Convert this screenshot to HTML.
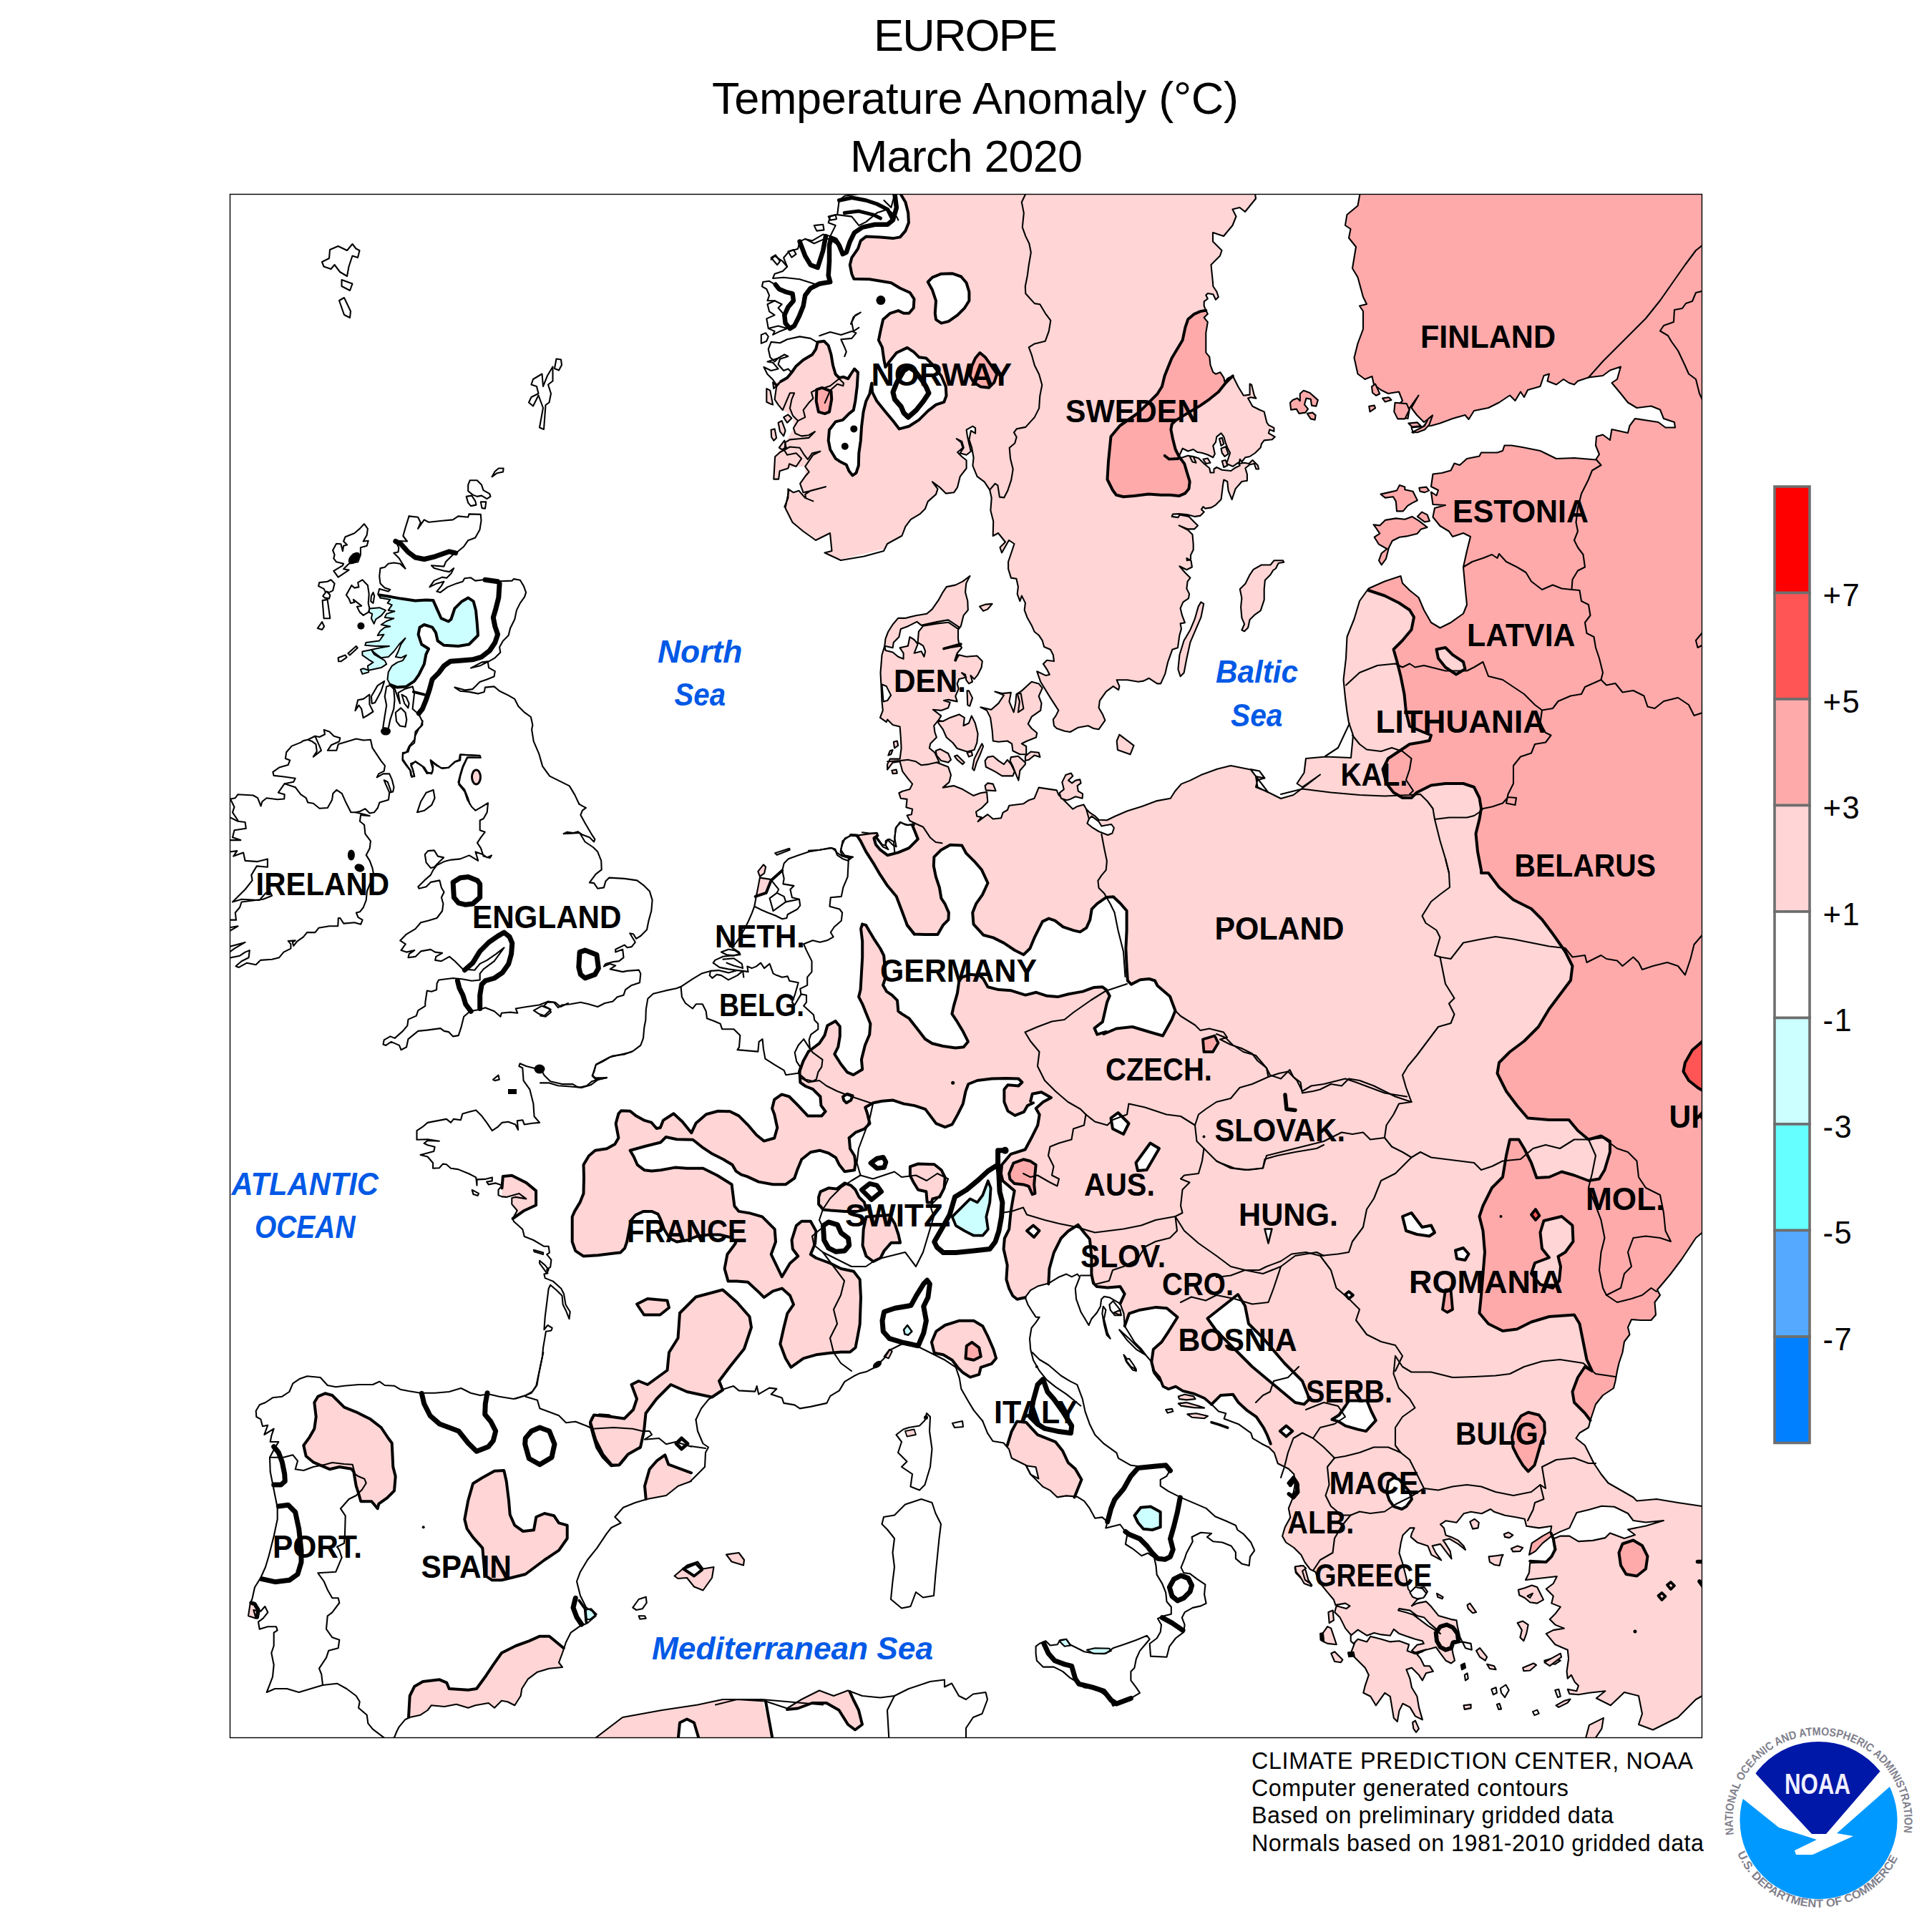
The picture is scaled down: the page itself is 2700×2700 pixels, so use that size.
<!DOCTYPE html>
<html><head><meta charset="utf-8"><title>Europe Temperature Anomaly</title>
<style>
html,body{margin:0;padding:0;background:#fff}
body{width:2700px;height:2700px;position:relative;overflow:hidden;font-family:"Liberation Sans",sans-serif}
svg{position:absolute;left:0;top:0}
text{font-family:"Liberation Sans",sans-serif}
.t{font-size:63px;fill:#000;text-anchor:middle}
.c{font-size:44.5px;font-weight:bold;fill:#000}
.s{font-size:45px;font-weight:bold;font-style:italic;fill:#0059e6}
.k{font-size:43.5px;letter-spacing:1.5px;fill:#000}
.f{font-size:32.3px;fill:#000}
path{stroke-linejoin:round;stroke-linecap:round}
</style></head><body>
<svg width="2700" height="2700" viewBox="0 0 2700 2700">
<defs><clipPath id="fr"><rect x="321" y="271" width="2058" height="2158"/></clipPath>
<clipPath id="lg"><circle cx="2541.5" cy="2544" r="110"/></clipPath></defs>
<text class="t" x="1349.5" y="71" textLength="257" lengthAdjust="spacing">EUROPE</text>
<text class="t" x="1363" y="158.5" textLength="736" lengthAdjust="spacing">Temperature Anomaly (°C)</text>
<text class="t" x="1350.5" y="240" textLength="325" lengthAdjust="spacing">March 2020</text>
<g clip-path="url(#fr)">
<g><path d="M1257.0,260.0 1200.3,270.0 1180.3,273.8 1172.7,280.0 1170.2,300.1 1160.2,302.6 1157.7,311.3 1150.2,313.8 1137.7,315.1 1135.2,336.4 1125.2,333.9 1115.1,347.7 1102.6,351.4 1095.1,360.2 1082.6,357.7 1077.6,362.7 1082.6,382.7 1080.1,389.0 1066.3,394.0 1065.0,400.3 1071.3,404.0 1075.1,412.8 1072.5,425.3 1071.3,445.4 1073.8,459.1 1063.8,467.9 1063.8,479.9 1073.8,487.9 1076.3,499.2 1067.5,513.0 1072.5,523.0 1080.1,530.5 1085.1,540.6 1082.6,558.1 1093.8,573.1 1108.1,581.1 1108.9,598.2 1097.6,618.2 1083.1,638.2 1081.3,669.6 1088.1,669.6 1090.1,658.3 1101.4,654.5 1112.6,652.0 1125.2,652.0 1125.2,665.8 1118.1,675.8 1122.6,688.3 1108.9,688.3 1101.4,683.3 1097.5,710.0 1107.5,730.0 1122.5,742.5 1140.0,755.0 1150.0,750.0 1160.0,745.0 1162.5,770.0 1152.5,772.5 1175.0,782.0 1240.0,766.0 1300.0,750.0 1352.5,800.0 1355.3,805.1 1345.3,812.6 1335.2,817.6 1322.7,820.1 1317.7,827.6 1311.4,838.9 1302.7,851.4 1295.2,857.7 1280.1,860.2 1265.1,863.9 1255.1,863.9 1247.6,872.7 1241.3,882.7 1237.5,892.7 1236.3,902.7 1232.5,915.3 1230.5,940.3 1231.3,955.4 1232.5,980.4 1233.8,992.9 1230.0,1002.9 1238.8,1009.2 1240.1,1005.5 1247.6,1013.0 1257.6,1015.5 1258.8,1030.5 1259.6,1045.5 1257.6,1060.6 1243.8,1060.6 1240.1,1068.1 1240.1,1075.6 1247.6,1065.6 1257.6,1064.3 1261.3,1078.1 1268.9,1088.1 1275.1,1095.6 1271.4,1103.1 1261.3,1105.7 1256.3,1108.2 1258.8,1115.7 1267.6,1116.9 1266.4,1128.2 1275.1,1130.7 1273.9,1138.2 1267.6,1139.5 1271.4,1147.0 1278.9,1150.7 1268.9,1153.2 1258.8,1149.5 1252.6,1155.8 1250.1,1170.8 1252.6,1183.3 1247.6,1180.8 1240.1,1173.3 1237.5,1180.8 1241.3,1187.1 1233.8,1183.3 1225.0,1172.0 1226.3,1164.5 1215.0,1164.5 1214.9,1164.4 1188.9,1167.1 1197.6,1167.6 1202.6,1175.2 1210.2,1190.2 1221.4,1207.7 1230.2,1222.7 1240.2,1237.8 1252.7,1252.8 1260.3,1272.8 1267.8,1292.9 1277.8,1305.4 1235.2,1300.4 1205.2,1291.6 1203.1,1297.9 1205.2,1315.4 1205.2,1338.0 1203.9,1360.5 1202.6,1383.1 1200.1,1393.1 1205.2,1403.1 1210.2,1415.6 1216.4,1430.7 1215.2,1445.7 1208.9,1460.7 1203.9,1480.8 1205.2,1494.5 1192.6,1502.1 1183.9,1498.3 1175.1,1487.0 1166.3,1473.2 1171.3,1463.2 1173.8,1448.2 1173.8,1434.4 1167.6,1426.9 1156.3,1433.2 1152.5,1446.9 1145.0,1458.2 1130.0,1469.5 1129.8,1469.6 1122.6,1482.8 1117.4,1497.3 1186.7,1590.2 1195.5,1582.7 1208.0,1577.7 1215.5,1570.1 1211.8,1555.1 1209.2,1547.6 1220.5,1541.3 1233.0,1538.8 1248.1,1537.6 1263.1,1542.6 1278.1,1545.1 1293.2,1550.1 1300.7,1560.1 1308.2,1570.1 1320.7,1575.2 1330.7,1571.4 1338.3,1557.6 1345.8,1542.6 1349.5,1525.1 1353.3,1515.0 1365.8,1510.0 1385.9,1507.5 1405.9,1507.0 1423.4,1507.5 1428.4,1512.5 1423.4,1517.5 1408.4,1516.3 1403.4,1522.5 1403.4,1540.1 1408.4,1552.6 1418.4,1558.9 1430.9,1553.9 1436.0,1545.1 1444.0,1541.3 1442.7,1528.8 1455.3,1526.3 1469.0,1533.9 1457.8,1540.1 1447.7,1548.9 1452.7,1557.7 1450.2,1572.7 1442.7,1587.7 1432.7,1606.5 1412.7,1612.8 1400.1,1627.8 1398.9,1640.3 1401.4,1650.3 1417.7,1664.1 1415.2,1677.9 1412.7,1692.9 1410.2,1718.0 1403.9,1730.5 1402.6,1745.5 1407.7,1768.1 1406.4,1788.1 1410.2,1800.6 1415.2,1810.7 1421.4,1815.7 1432.7,1813.2 1436.0,1830.0 1436.0,2440.0 2390.0,2440.0 2390.0,260.0 Z" fill="#FFD5D5"/>
<path d="M1117.4,1497.3 1118.4,1512.8 1125.7,1518.0 1136.0,1522.2 1146.4,1532.5 1147.4,1544.9 1153.6,1553.2 1148.4,1559.4 1128.8,1559.4 1115.3,1544.9 1102.9,1532.5 1092.5,1529.4 1082.2,1536.6 1079.1,1549.1 1082.2,1557.3 1086.3,1576.0 1082.2,1590.5 1067.7,1594.6 1057.3,1586.3 1044.9,1571.8 1032.5,1559.4 1020.1,1553.2 1003.5,1552.8 987.0,1557.3 972.5,1569.8 966.3,1583.2 953.8,1567.7 941.4,1556.3 926.9,1565.6 922.8,1576.0 917.6,1577.0 910.4,1568.7 900.0,1565.6 888.2,1558.9 880.6,1552.7 868.1,1552.2 864.4,1556.4 860.6,1570.2 864.4,1590.2 859.3,1599.0 848.1,1605.3 831.8,1607.8 823.0,1615.3 815.5,1627.8 816.0,1645.4 815.5,1667.9 810.5,1680.4 803.0,1692.9 799.7,1700.5 799.7,1735.5 804.2,1748.1 815.5,1755.6 835.6,1754.3 855.6,1751.8 866.9,1750.6 873.1,1744.3 876.1,1735.5 879.4,1718.0 881.9,1705.5 888.2,1698.0 899.4,1692.9 910.7,1692.9 919.5,1696.7 923.2,1704.2 928.2,1718.0 935.8,1730.5 945.8,1735.5 960.8,1733.0 973.3,1728.0 990.9,1725.5 1005.9,1725.5 1020.9,1729.3 1028.4,1735.5 1027.6,1738.0 1016.4,1753.0 1012.6,1773.0 1017.6,1790.6 1030.1,1790.6 1045.2,1791.8 1060.2,1805.6 1067.7,1813.1 1080.2,1804.4 1092.8,1800.6 1104.0,1810.6 1109.0,1823.1 1100.3,1835.7 1095.3,1855.7 1090.3,1878.3 1097.8,1898.3 1105.3,1910.8 1122.8,1898.3 1140.4,1893.3 1160.4,1890.8 1175.4,1889.5 1188.0,1889.5 1195.5,1883.3 1198.0,1870.7 1201.7,1850.7 1203.0,1813.1 1201.7,1788.1 1193.0,1776.8 1175.4,1773.0 1160.4,1765.5 1140.4,1758.0 1132.8,1753.0 1139.1,1738.0 1140.4,1720.4 1132.8,1706.7 1120.3,1706.7 1112.8,1712.9 1106.5,1733.0 1107.8,1745.5 1115.3,1755.5 1104.0,1765.5 1092.8,1784.3 1077.7,1753.0 1084.0,1735.5 1082.7,1717.9 1065.2,1700.4 1047.7,1695.4 1032.6,1692.9 1026.4,1685.4 1022.6,1655.3 1002.6,1642.8 982.5,1632.8 960.0,1632.8 943.3,1631.6 923.2,1635.3 910.7,1636.6 900.7,1635.3 890.7,1627.8 885.7,1616.5 880.6,1607.8 903.2,1601.5 923.2,1596.5 930.7,1589.0 945.8,1592.2 968.3,1592.7 980.8,1602.8 995.9,1612.8 1010.9,1620.3 1023.4,1627.8 1028.4,1636.6 1036.0,1641.6 1044.0,1644.1 1060.2,1651.6 1080.2,1655.3 1097.8,1655.3 1110.3,1646.5 1114.1,1635.3 1120.3,1620.2 1132.8,1610.2 1145.4,1607.7 1157.9,1611.5 1167.9,1617.7 1172.9,1627.8 1180.4,1637.3 1194.2,1635.3 1195.5,1625.3 1194.2,1615.2 1188.0,1605.2 1186.7,1590.2 1193.0,1562.6 1172.9,1500.0 1135.4,1467.4 Z" fill="#FFD5D5"/>
<path d="M1061.9,1226.6 1078.1,1229.1 1070.6,1249.2 1055.6,1252.9 1059.3,1240.4Z" fill="#FFD5D5"/>
<path d="M702.8,1644.1 715.3,1642.8 735.4,1652.9 749.1,1664.1 749.1,1684.2 732.8,1691.7 716.6,1703 722.8,1691.7 715.3,1682.9 716.6,1670.4 707.8,1672.9 701.5,1671.7 701.5,1660.4Z" fill="#FFD5D5"/>
<path d="M439.3,1960 444.3,1951.7 454.3,1947.3 464.3,1950 481,1966.7 497.7,1973.3 517.7,1983.3 532.7,1995 542.7,2010 547.7,2016.7 549.3,2050 552.7,2063.3 551,2083.3 541,2093.3 529.3,2101.7 527.7,2108.3 519.3,2098.3 504.3,2098.3 501,2086.7 497.7,2076.7 494.3,2056.7 491,2052.7 474.3,2050 461,2053.3 449.3,2048.3 437.7,2043.3 427.7,2035 424.3,2020 432.7,2008.3 439.3,1996.7 441.7,1980Z" fill="#FFD5D5" stroke="#000" stroke-width="4"/>
<path d="M661,2073.3 674.3,2065 691,2055.7 704.3,2055 707.7,2070 711,2096.7 712.7,2116.7 719.3,2131.7 731,2140 746,2138.3 749.3,2120 761,2115 774.3,2118.3 781,2128.3 792.7,2131.7 792.7,2150 781,2166.7 761,2180 734.3,2200 714.3,2205 701,2208.3 687.7,2208.3 677.7,2201.7 674.3,2163.3 661,2148.3 652.7,2136.7 649.3,2123.3 654.3,2096.7Z" fill="#FFD5D5" stroke="#000" stroke-width="4"/>
<path d="M571,2400 572.7,2370 579.3,2356.7 591,2350 614.3,2347.3 624.3,2351.7 627.7,2360 654.3,2361.7 666,2360 679.3,2341.7 689.3,2326.7 701,2310 721,2300 739.3,2293.3 754.3,2286.7 767.7,2286.7 787.7,2303.3 786,2310 781,2323.3 786,2330 767.7,2331.7 751,2336.7 737.7,2346.7 729.3,2360 727.7,2370 719.3,2383.3 709.3,2378.3 701,2376.7 691,2386.7 682.7,2380 664.3,2383.3 654.3,2386.7 637.7,2381.7 621,2385 602.7,2383.3 597.7,2390 587.7,2396.7 572.7,2400Z" fill="#FFD5D5"/>
<path d="M827.7,1981.7 837.7,1977.3 851,1978.3 864.3,1985 884.3,1990 894.3,1993.3 897,2006.7 894.3,2023.3 881,2026.7 874.3,2036.7 866,2046.7 854.3,2048.3 842.7,2036.7 834.3,2023.3 829.3,2006.7 825,1990Z" fill="#FFD5D5" stroke="#000" stroke-width="4"/>
<path d="M902.7,2095 901,2076.7 907.7,2053.3 917.7,2041.7 929.3,2033.3 934.3,2046.7 966,2058.3 966,2070 947.7,2076.7 931,2090Z" fill="#FFD5D5"/>
<path d="M349.3,2243.3 354.3,2240 361,2250 358.3,2260.7 347.7,2259.3Z" fill="#FFD5D5"/>
<path d="M1144.1,1672.8 1146.6,1665.3 1157.9,1660.3 1169.2,1661.6 1180.4,1653.3 1189.2,1656.6 1195.5,1662.8 1200.5,1672.8 1208,1680.4 1210.5,1690.4 1198,1692.9 1180.4,1692.9 1160.4,1691.6 1150.4,1690.4 1144.1,1682.9Z" fill="#FFD5D5" stroke="#000" stroke-width="4"/>
<path d="M1271.9,1630.3 1283.1,1626.5 1305.7,1627.3 1315.7,1635.3 1320.7,1645.3 1319.5,1660.3 1313.2,1672.8 1303.2,1675.4 1301.9,1680.4 1295.7,1680.4 1294.4,1665.3 1283.1,1662.8 1276.9,1652.8 1271.9,1642.8Z" fill="#FFD5D5" stroke="#000" stroke-width="4"/>
<path d="M1206.7,1717.9 1210.5,1700.4 1243.1,1697.9 1250.6,1710.4 1255.6,1725.5 1258.1,1736.7 1245.6,1736.7 1235.6,1748 1230.5,1758 1220.5,1763 1210.5,1755.5 1205.5,1740.5Z" fill="#FFD5D5" stroke="#000" stroke-width="4"/>
<path d="M1301.9,1875.8 1308.2,1860.7 1320.7,1852 1340.8,1845.7 1360.8,1845.7 1373.3,1853.2 1380.8,1868.2 1388.4,1885.8 1392.1,1898.3 1385.9,1905.8 1370.8,1910.8 1368.3,1920.8 1355.8,1924.6 1345.8,1918.3 1338.3,1910.8 1330.7,1900.8 1318.2,1893.3 1305.7,1890.8Z" fill="#FFD5D5" stroke="#000" stroke-width="4"/>
<path d="M1235.6,1895.8 1243.1,1885.8 1246.8,1888.3 1241.8,1898.3Z" fill="#FFD5D5" stroke="#000" stroke-width="2"/>
<path d="M1010,1802.5 972.5,1812.5 950,1835 947.5,1870 935,1890 932.5,1915 905,1935 892.5,1930 882.5,1935 890,1955 885,1970 872.5,1982.5 855,1980 830,1977.5 825,1987.5 832.5,2012.5 842.5,2032.5 855,2047.5 865,2047.5 877.5,2032.5 895,2022.5 900,2000 902.5,1975 917.5,1955 937.5,1935 960,1945 995,1952.5 1010,1942.5 1005,1930 1020,1910 1040,1885 1050,1855 1047.5,1840 1030,1820Z" fill="#FFD5D5" stroke="#000" stroke-width="4"/>
<path d="M890,1822.5 905,1815 932.5,1817.5 935,1827.5 922.5,1837.5 900,1837.5Z" fill="#FFD5D5" stroke="#000" stroke-width="4"/></g>
<g><path d="M1257.9,270 1265.4,282.5 1269.2,297.6 1269.9,311.3 1265.4,322.6 1257.9,331.4 1247.9,333.1 1230.4,331.4 1210.3,330.6 1202.8,336.4 1199,347.7 1190.3,360.2 1187.8,370.2 1190.3,382.7 1193.3,389.7 1215.3,390.3 1230.4,392.8 1245.4,395.3 1257.9,402.8 1271.7,409 1277.5,417.8 1276.7,430.3 1270.4,437.8 1262.9,437.8 1255.4,434.1 1244.1,437.8 1234.1,446.6 1230.4,462.9 1227.9,475.4 1232.9,485.4 1235.4,503 1237.4,513 1242.9,505.5 1252.9,493 1267.9,485.9 1276.7,491.7 1284.2,499.2 1294.2,500.5 1303,509.2 1315.5,525.5 1321.8,540.6 1322.5,553.1 1319.3,561.8 1308,565.6 1296.7,574.4 1284.2,586.9 1270.4,595.7 1256.7,599.4 1247.9,588.1 1236.6,574.4 1225.4,560.6 1219.1,548.1 1218.3,535.5 1215.3,550.6 1210.3,560.6 1206.6,575.6 1204.1,595.7 1202.8,615.7 1200.3,633.2 1199.8,650.8 1196.5,660.8 1191.5,664.5 1186.5,658.3 1182.8,649.5 1175.3,645.8 1167.7,640.8 1160.2,628.2 1157.7,615.7 1159,600.7 1167.7,589.4 1177.8,586.9 1186.5,578.1 1192.8,573.1 1195.3,560.6 1197.8,540.6 1199,520.5 1194,515.5 1189,523 1185.3,529.3 1179,526.8 1172.7,528 1167.7,523 1164,510.5 1161.5,495.5 1157.7,482.9 1151.5,476.7 1142.7,477.9 1140.2,487.9 1135.2,495.5 1122.6,503 1112.6,511.7 1106.4,520.5 1100.1,528 1091.3,533 1050,533 1050,270Z" fill="#fff"/>
<path d="M1296.7,394 1303,387.7 1315.5,382.7 1330.6,382.2 1343.1,386.5 1350.6,395.3 1354.4,407.8 1354.4,420.3 1348.1,430.3 1338.1,440.4 1325.6,449.1 1315.5,451.6 1308,446.6 1306.8,437.8 1308,420.3 1303,405.3Z" fill="#fff" stroke="#000" stroke-width="4"/>
<path d="M1267.8,1292.9 1277.8,1305.4 1292.8,1305.9 1310.4,1305.9 1317.9,1292.9 1325.4,1285.4 1325.9,1275.4 1320.4,1262.8 1315.4,1255.3 1312.9,1240.3 1307.9,1225.3 1304.8,1210.2 1305.4,1197.7 1315.4,1187.7 1327.9,1180.7 1344.2,1181.4 1350.4,1192.7 1363.0,1205.2 1371.7,1215.2 1380.5,1234.0 1373.0,1250.3 1364.2,1262.8 1359.2,1275.4 1360.5,1291.6 1374.2,1306.7 1388.0,1310.4 1403.0,1317.9 1418.1,1328.0 1430.6,1334.2 1439.4,1325.5 1445.6,1310.4 1456.9,1287.9 1465.7,1283.6 1474.4,1286.6 1485.7,1295.4 1500.7,1300.4 1509.5,1302.4 1518.3,1296.6 1523.3,1285.4 1525.8,1270.3 1533.3,1262.8 1545.8,1254.1 1555.9,1253.3 1565.9,1262.8 1574.6,1272.8 1574.6,1300.4 1573.4,1325.5 1574.6,1350.5 1575.9,1370.5 1580.9,1375.6 1593.4,1369.3 1606.0,1368.0 1614.0,1370.5 1617.5,1377.5 1635.0,1392.5 1642.5,1412.5 1637.5,1425.0 1625.0,1447.5 1607.5,1442.5 1582.5,1435.0 1560.0,1437.5 1542.5,1445.0 1545.8,1441.9 1533.3,1445.7 1529.5,1436.9 1540.8,1428.2 1547.1,1400.6 1550.8,1391.8 1545.8,1383.1 1540.8,1379.3 1528.3,1380.1 1513.3,1385.6 1493.2,1389.3 1478.2,1393.1 1463.2,1391.8 1448.1,1386.8 1433.1,1390.6 1413.1,1384.3 1395.5,1383.1 1380.5,1379.3 1374.2,1368.0 1369.2,1363.0 1355.5,1361.8 1344.9,1365.5 1340.4,1370.5 1337.9,1388.1 1332.9,1405.6 1330.4,1416.9 1337.9,1428.2 1345.4,1440.7 1352.9,1455.7 1346.7,1463.2 1335.4,1464.5 1317.9,1462.0 1302.8,1458.2 1292.8,1452.0 1280.3,1435.7 1270.3,1423.1 1260.3,1416.9 1255.3,1413.1 1254.0,1398.1 1246.5,1390.6 1239.0,1385.6 1234.0,1376.8 1237.7,1365.5 1236.5,1350.5 1235.2,1335.5 1230.2,1325.5 1222.7,1314.2 1215.2,1301.7 1210.2,1292.9 1205.2,1291.6 1197.6,1282.9 1255.3,1275.4 Z" fill="#fff"/>
<path d="M1275.3,1153.9 1277.8,1160.1 1282.8,1172.6 1270.3,1185.2 1255.3,1191.4 1240.2,1195.2 1230.2,1187.7 1223.9,1180.2 1221.4,1171.4 1226.4,1167.6 1225.2,1160.1 1242.7,1145.1 1260.3,1145.1 1275.3,1150.1Z" fill="#fff"/>
<path d="M1177.9,1532.6 1184.2,1528.8 1191.7,1531.3 1189.2,1537.6 1182.9,1541.3 1179.2,1537.6Z" fill="#fff" stroke="#000" stroke-width="4"/>
<path d="M1465.3,1794.4 1466.5,1773.1 1472.8,1750.5 1482.8,1730.5 1492.8,1720.5 1506.6,1711.7 1515.4,1723 1522.9,1731.8 1525.4,1755.6 1525.4,1780.6 1527.9,1793.1 1532.9,1798.1 1547.9,1799.4 1565.5,1798.1 1571.7,1808.2 1565.5,1821.9 1555.5,1855.8 1505.4,1855.8 1465.3,1805.7Z" fill="#fff"/>
<path d="M1571.7,1853.2 1578,1835.7 1593,1830.7 1615.6,1826.9 1630.6,1828.2 1645.6,1840.7 1633.1,1860.8 1623.1,1875.8 1611.8,1885.8 1609.3,1903.3 1613.1,1918.4 1620.6,1928.4 1605.6,1930.9 1580.5,1880.8Z" fill="#fff"/>
<path d="M1693.1,1962.6 1705.7,1950.1 1723.2,1948.8 1730.7,1960.1 1743.2,1971.4 1755.8,1980.2 1765.8,1995.2 1770.8,2005.2 1775.8,2017.7 1765.8,2025.3 1730.7,2000.2 1700.6,1975.2Z" fill="#fff"/>
<path d="M1687.5,1842.5 1730,1809 1740,1825 1745,1850 1765,1870 1795,1905 1820,1930 1830,1955 1822.5,1962.5 1810,1960 1780,1935 1750,1910 1725,1885 1700,1860Z" fill="#fff" stroke="#000" stroke-width="4"/>
<path d="M1940.3,2070.2 1947.8,2065.2 1955.4,2067.7 1970.4,2085.3 1972.9,2095.3 1965.4,2105.3 1959.1,2109 1947.8,2105.3 1941.6,2096.5 1937.8,2085.3Z" fill="#fff" stroke="#000" stroke-width="4"/>
<path d="M1861.4,1983.8 1871.4,1977.5 1880.2,1965 1885.2,1957.5 1910.3,1957.5 1916.5,1972.5 1922.8,1985.1 1909,2000.1 1897.7,1997.6 1880.2,1992.6 1870.2,1986.3Z" fill="#fff" stroke="#000" stroke-width="4"/>
<path d="M1788.8,2000.1 1797.5,1992.6 1806.3,2000.1 1797.5,2007.6Z" fill="#fff" stroke="#000" stroke-width="4"/>
<path d="M1960,1700 1972.5,1695 1980,1705 1987.5,1715 2000,1712.5 2005,1722.5 1997.5,1727.5 1980,1725 1965,1720Z" fill="#fff" stroke="#000" stroke-width="4"/>
<path d="M2034,1747.5 2045,1744 2052.5,1752.5 2047.5,1761 2036,1759Z" fill="#fff" stroke="#000" stroke-width="4"/>
<path d="M1880,1809 1885,1805 1891,1810 1885,1815Z" fill="#fff" stroke="#000" stroke-width="3.8"/>
<path d="M1767.5,1717.5 1777.5,1717.5 1772.5,1737.5Z" fill="#fff" stroke="#000" stroke-width="2.5"/>
<path d="M1552.5,1562.5 1562.5,1555 1577.5,1570 1570,1585 1555,1577.5Z" fill="#fff" stroke="#000" stroke-width="4"/>
<path d="M1587.5,1625 1607.5,1597.5 1620,1605 1602.5,1635 1590,1636Z" fill="#fff" stroke="#000" stroke-width="4"/>
<path d="M1435,1720 1444,1712.5 1452.5,1720 1445,1729Z" fill="#fff" stroke="#000" stroke-width="4"/></g>
<g><path d="M1890.0,260.0 1870.0,400.0 1880.0,560.0 1850.0,700.0 1880.0,800.0 1912.5,825.0 1935.0,832.5 1955.0,842.5 1970.0,852.5 1976.0,862.5 1972.5,880.0 1960.0,895.0 1947.5,907.5 1952.5,925.0 1957.5,945.0 1962.5,970.0 1965.0,995.0 1970.0,1015.0 1987.5,1022.5 2000.0,1027.5 1997.5,1035.0 1985.0,1037.5 1970.0,1040.0 1955.0,1050.0 1940.0,1060.0 1932.5,1075.0 1937.5,1095.0 1947.5,1107.5 1960.0,1115.0 1972.5,1115.0 1980.0,1107.5 2000.0,1097.5 2020.0,1095.0 2045.0,1095.0 2060.0,1100.0 2067.5,1115.0 2070.0,1130.0 2067.5,1145.0 2062.5,1165.0 2065.0,1190.0 2070.0,1216.0 2070.0,1220.0 2080.0,1220.0 2095.0,1240.0 2115.0,1257.5 2140.0,1270.0 2155.0,1285.0 2170.0,1305.0 2187.5,1330.0 2197.5,1350.0 2195.0,1370.0 2180.0,1390.0 2165.0,1410.0 2150.0,1435.0 2130.0,1455.0 2110.0,1470.0 2095.0,1485.0 2092.5,1500.0 2105.0,1525.0 2120.0,1545.0 2135.0,1562.5 2165.0,1565.0 2192.5,1565.0 2205.0,1580.0 2220.0,1592.5 2237.5,1587.5 2250.0,1595.0 2250.0,1610.0 2242.5,1635.0 2235.0,1647.5 2220.0,1650.0 2200.0,1642.5 2182.5,1637.5 2165.0,1645.0 2147.5,1646.0 2140.0,1625.0 2130.0,1605.0 2122.5,1592.5 2110.0,1592.5 2105.0,1615.0 2100.0,1645.0 2085.0,1660.0 2072.5,1685.0 2067.5,1700.0 2072.5,1720.0 2075.0,1750.0 2072.5,1780.0 2070.0,1810.0 2067.5,1835.0 2080.0,1850.0 2100.0,1860.0 2120.0,1857.5 2140.0,1847.5 2165.0,1840.0 2200.0,1837.5 2207.5,1850.0 2212.5,1875.0 2217.5,1900.0 2225.0,1916.0 2225.0,1916.0 2215.0,1910.0 2205.0,1925.0 2197.5,1945.0 2200.0,1960.0 2215.0,1975.0 2222.5,1985.0 2300.0,2010.0 2390.0,2010.0 2390.0,260.0 Z" fill="#FFAAAA"/>
<path d="M1369.4,493 1376.9,499.2 1385.7,511.7 1393.2,523 1389.4,534.3 1381.9,541.8 1370.6,540.6 1360.6,534.3 1355.6,525.5 1358.1,511.7 1363.1,500.5Z" fill="#FFAAAA" stroke="#000" stroke-width="4"/>
<path d="M1141.4,544.3 1148.9,541.8 1161.5,546.8 1162.2,558.1 1159,575.6 1152.7,578.1 1143.9,575.6 1140.7,560.6Z" fill="#FFAAAA" stroke="#000" stroke-width="4"/>
<path d="M1685.3,433.8 1687.8,438.8 1682.7,443.8 1687.8,450.1 1685.3,465.1 1685.3,492.7 1690.3,498.9 1691.5,510.2 1695.3,520.2 1699.0,522.7 1705.3,520.2 1710.3,527.8 1711.6,534.0 1715.3,529.0 1722.8,525.3 1712.8,535.3 1702.8,547.8 1690.3,557.8 1677.7,566.6 1665.2,574.1 1652.7,581.6 1642.7,587.9 1637.7,592.9 1636.4,600.4 1638.9,612.9 1642.7,628.0 1647.7,638.0 1655.2,648.0 1658.9,660.5 1662.7,673.0 1661.5,683.1 1656.4,689.3 1647.7,693.1 1635.2,691.8 1622.6,691.8 1605.1,690.6 1585.1,693.1 1570.0,694.3 1560.0,691.8 1555.0,685.0 1547.5,670.0 1549.0,645.0 1552.5,610.0 1565.0,595.0 1590.0,577.5 1595.1,572.8 1607.6,560.3 1617.6,550.3 1623.9,540.3 1627.6,525.3 1632.6,512.7 1637.7,500.2 1645.2,487.7 1652.7,475.2 1656.4,457.6 1660.2,446.3 1669.0,438.8 1677.7,435.1 1685.3,433.8 Z" fill="#FFAAAA"/>
<path d="M1350.8,1880.8 1358.3,1875.8 1368.3,1883.3 1370.8,1895.8 1360.8,1900.8 1349.5,1898.3Z" fill="#FFAAAA" stroke="#000" stroke-width="4"/>
<path d="M1410.2,1640.3 1416.4,1625.3 1430.2,1620.3 1440.2,1622.8 1447.7,1627.8 1446.5,1640.3 1445.2,1655.4 1446.5,1667.9 1442.7,1669.1 1437.7,1657.9 1430.2,1655.4 1417.7,1654.1 1411.4,1647.8Z" fill="#FFAAAA" stroke="#000" stroke-width="4"/>
<path d="M2113.2,2007.6 2118.2,1990.1 2125.7,1978.8 2135.7,1973.8 2150.7,1977.5 2158.3,1987.6 2158.8,2002.6 2153.2,2017.6 2148.2,2035.2 2144.5,2047.7 2135.7,2056.4 2128.2,2047.7 2120.7,2035.2 2114.4,2022.6Z" fill="#FFAAAA" stroke="#000" stroke-width="4"/>
<path d="M2140.7,2156.6 2155.8,2146.6 2167,2140.9 2170.8,2150.4 2173.3,2165.4 2168.3,2175.4 2160.8,2182.9 2138.2,2181.7 2137,2172.9Z" fill="#FFAAAA"/>
<path d="M2262.5,2170 2267.5,2157.5 2282.5,2152.5 2295,2160 2302.5,2175 2300,2192.5 2287.5,2202.5 2272.5,2200 2265,2187.5Z" fill="#FFAAAA" stroke="#000" stroke-width="4"/>
<path d="M2016,1830 2020,1802.5 2027.5,1802.5 2030,1830 2022.5,1834Z" fill="#FFAAAA" stroke="#000" stroke-width="3.8"/>
<path d="M1681,1452.5 1697.5,1447.5 1702.5,1457.5 1695,1470 1682.5,1470Z" fill="#FFAAAA" stroke="#000" stroke-width="3.8"/></g>
<g><path d="M2152.5,1722.5 2157.5,1706 2182.5,1700 2197.5,1712.5 2198.5,1735 2187.5,1750 2177.5,1756 2181,1770 2179,1790 2170,1800 2152.5,1795 2140,1780 2145,1765 2165,1757.5 2155,1745Z" fill="#FFD5D5" stroke="#000" stroke-width="4"/>
<path d="M2007.5,907.5 2020,905 2030,915 2045,925 2047.5,935 2035,942.5 2020,932.5 2010,920Z" fill="#FFD5D5" stroke="#000" stroke-width="4"/></g>
<g><path d="M530.2,831.6 546.5,834.1 560.3,836.6 580.3,839.6 595.4,838.4 605.4,839.1 610.4,850.4 616.6,864.2 626.7,868.5 630.4,865.5 635.4,850.4 645.5,840.4 654.2,835.4 661.7,840.4 665,852.9 666.7,870.5 668,888 655.5,900.5 640.4,903 620.4,901.8 611.6,895.5 609.1,884.2 604.1,876.7 592.8,873 586.6,876.7 584.6,886.7 589.1,900.5 599.1,906.8 595.4,914.3 592.8,928.1 585.3,943.1 579.1,951.9 567.8,959.4 555.3,960.6 545.3,956.9 541.5,949.4 542.7,939.3 547.8,930.6 555.3,925.6 562.8,923.1 567.8,915.6 560.3,919.3 552.8,918.1 556.5,910.5 560.3,900.5 566.5,891.8 557.8,900.5 550.3,910.5 542.7,918.1 532.7,919.3 522.7,911.8 518.9,908 530.2,905.5 544,903 525.2,903 510.2,901.8 511.4,898 530.2,895.5 536.5,886.7 527.7,888 531.5,881.7 537.7,876.7 545.3,875.5 532.7,873 540.2,868 550.3,864.2 537.7,862.9 540.2,857.9 551.5,854.2 542.7,852.9 547.8,845.4 541.5,842.9 545.3,837.9 531.5,835.4Z" fill="#CCFFFF" stroke="#000" stroke-width="2"/>
<path d="M516.4,850.4 530.2,849.2 539,852.9 532.7,860.4 525.2,865.5 522.7,871.7 518.9,864.2 520.2,857.9 515.2,855.4Z" fill="#CCFFFF" stroke="#000" stroke-width="2"/>
<path d="M506.4,910.5 518.9,908 522.7,914.3 537.7,923.1 540.2,928.1 532.7,933.1 515.2,936.8 507.7,934.3 503.9,935.6 506.4,941.9 515.2,939.3 513.9,930.6 521.5,925.6 515.2,921.8 506.4,915.6Z" fill="#CCFFFF" stroke="#000" stroke-width="2"/>
<ellipse cx="665.5" cy="1086" rx="6" ry="10" fill="#FFD5D5" stroke="#000" stroke-width="3"/>
<path d="M817.7,2250 826,2248.3 833.7,2256 824.3,2263.3 819.3,2262.7Z" fill="#CCFFFF" stroke="#000" stroke-width="2.1"/>
<path d="M1330.7,1700.4 1343.3,1687.9 1355.8,1675.4 1365.8,1680.4 1373.3,1670.3 1380.8,1650.3 1384.6,1660.3 1383.3,1680.4 1378.3,1700.4 1380.8,1717.9 1373.3,1726.7 1360.8,1726.7 1348.3,1720.4 1335.8,1712.9Z" fill="#CCFFFF" stroke="#000" stroke-width="3.8"/>
<path d="M1263.1,1858.2 1268.1,1852 1274.4,1860.7 1269.4,1865.7 1264.4,1864.5Z" fill="#CCFFFF" stroke="#000" stroke-width="2.5"/>
<path d="M2382.5,1452.5 2365,1467.5 2355,1485 2352.5,1497.5 2360,1510 2372.5,1520 2382.5,1526Z" fill="#FF5555" stroke="#000" stroke-width="4"/>
<path d="M2140,1697.5 2146,1690 2151.5,1699 2146,1705Z" fill="#FF5555" stroke="#000" stroke-width="3.8"/></g>
<g><path d="M1175.0,783.0 1207.5,777.5 1235.0,770.0 1240.0,760.0 1260.0,749.0 1260.4,749.0 1265.4,735.9 1272.9,725.9 1285.5,718.4 1293.0,710.9 1296.7,700.9 1308.0,690.9 1310.5,683.3 1303.0,673.3 1313.0,680.8 1321.8,689.6 1333.1,688.3 1338.1,680.8 1341.8,665.8 1350.6,654.5 1350.6,643.3 1344.3,638.2 1338.1,632.0 1345.6,625.7 1343.1,618.2 1336.8,613.2 1344.3,617.0 1346.8,625.7 1341.8,633.2 1350.6,635.7 1356.9,630.7 1354.4,620.7 1351.9,609.4 1350.6,600.7 1359.4,595.7 1363.1,598.2 1363.1,605.7 1356.9,601.9 1354.4,614.4 1358.1,625.7 1360.6,639.5 1359.4,650.8 1365.6,665.8 1375.7,673.3 1383.2,684.6 1385.7,695.9 1384.4,713.4 1388.2,728.4 1387.7,749.0 1395.0,745.0 1405.0,757.5 1397.5,765.0 1400.0,772.5 1410.0,755.0 1417.5,760.0 1412.5,775.0 1409.1,785.0 1409.1,795.0 1412.9,807.6 1420.4,808.8 1422.9,820.1 1421.7,830.1 1425.4,840.1 1427.9,832.6 1432.9,842.6 1431.7,852.6 1435.4,862.7 1441.7,873.9 1445.5,882.7 1451.7,887.7 1456.7,895.2 1459.2,904.0 1468.0,907.8 1471.8,915.3 1473.0,924.0 1463.0,922.8 1458.0,927.8 1463.0,935.3 1466.8,942.8 1461.7,944.1 1449.2,938.3 1454.2,952.8 1468.0,975.4 1479.3,992.9 1475.5,1000.4 1471.8,1005.5 1473.0,1014.2 1476.8,1018.0 1488.0,1021.7 1495.6,1023.0 1506.8,1016.7 1520.6,1014.2 1528.1,1018.0 1535.6,1019.2 1544.4,1006.7 1540.7,997.9 1535.6,989.2 1536.9,979.1 1545.7,966.6 1555.7,959.1 1563.2,964.1 1564.4,959.1 1560.7,950.3 1575.7,950.3 1590.8,952.8 1598.3,951.6 1605.8,947.8 1617.1,955.4 1622.1,955.4 1628.3,941.6 1632.1,925.3 1638.3,907.8 1645.9,905.3 1648.4,887.7 1650.9,878.9 1649.6,871.4 1655.9,870.2 1652.1,860.2 1649.6,850.1 1653.4,841.4 1660.9,836.4 1662.1,830.1 1658.4,822.6 1659.6,812.6 1663.4,807.6 1655.9,800.0 1648.4,791.3 1658.4,796.3 1665.9,792.5 1664.6,783.8 1658.4,780.0 1658.9,783.3 1664.0,782.0 1664.0,775.8 1667.7,768.2 1667.7,760.7 1666.5,746.9 1660.2,740.7 1647.7,734.4 1660.2,739.4 1669.0,739.4 1674.0,734.4 1667.7,728.2 1661.5,721.9 1648.9,719.4 1646.4,723.1 1637.7,721.9 1638.9,718.6 1647.7,718.1 1660.2,719.4 1670.2,721.9 1677.7,720.6 1682.7,715.6 1679.0,711.9 1681.5,708.1 1684.0,710.6 1692.8,709.4 1699.0,705.6 1706.5,698.1 1707.8,688.1 1709.0,678.1 1710.3,670.5 1715.3,673.0 1716.6,685.6 1721.6,698.1 1726.6,683.1 1735.4,673.0 1742.9,671.8 1742.9,663.0 1740.4,654.3 1746.6,649.2 1752.9,648.0 1755.4,655.5 1759.1,655.5 1757.9,650.5 1750.4,643.0 1745.4,648.0 1739.1,646.7 1731.6,648.0 1732.8,641.7 1735.4,645.5 1740.4,639.2 1746.6,638.0 1754.1,633.0 1761.7,625.5 1762.9,620.4 1766.7,615.4 1777.9,614.2 1781.7,610.4 1772.9,605.4 1774.2,600.4 1780.4,602.9 1780.4,597.9 1772.9,594.1 1770.4,590.4 1766.7,575.4 1760.4,572.8 1750.4,567.8 1744.1,556.6 1747.9,555.3 1755.4,556.6 1752.9,552.8 1749.1,537.8 1746.6,536.5 1746.6,551.6 1737.9,552.8 1730.3,540.3 1722.8,525.3 1715.3,529.0 1711.6,534.0 1710.3,527.8 1705.3,520.2 1699.0,522.7 1695.3,520.2 1691.5,510.2 1690.3,498.9 1685.3,492.7 1685.3,465.1 1687.8,450.1 1682.7,443.8 1687.8,438.8 1685.3,433.8 1682.7,427.6 1682.7,421.3 1687.8,417.5 1685.3,412.5 1687.8,410.0 1695.3,411.3 1699.0,418.8 1702.8,415.0 1700.3,407.5 1695.3,400.0 1695.0,395.0 1692.5,370.0 1705.0,357.5 1707.5,350.0 1695.0,337.5 1695.0,325.0 1710.0,330.0 1722.5,315.0 1727.5,302.5 1722.5,292.5 1732.5,290.0 1740.0,296.0 1755.0,277.5 1752.5,260.0 1902.5,260.0 1897.5,287.5 1882.5,300.0 1880.0,315.0 1887.5,320.0 1885.0,332.5 1895.0,345.0 1890.0,375.0 1897.5,387.5 1905.0,415.0 1910.0,425.0 1900.0,427.5 1905.0,435.0 1905.0,460.0 1897.5,480.0 1892.5,500.0 1897.5,522.5 1907.5,530.0 1917.5,526.0 1920.0,537.5 1930.0,545.0 1940.0,550.0 1955.0,547.5 1960.0,560.0 1950.0,570.0 1955.0,582.5 1967.5,585.0 1970.0,570.0 1982.5,552.5 1972.5,570.0 1980.0,580.0 1990.0,590.0 2000.0,582.5 1990.0,595.0 1975.0,605.0 1972.5,597.5 2000.0,595.0 2012.5,591.5 2030.0,585.0 2047.5,580.0 2052.5,586.0 2060.0,574.0 2080.0,570.0 2095.0,562.5 2110.0,552.5 2117.5,560.0 2125.0,547.5 2130.0,555.0 2135.0,545.0 2152.5,540.0 2157.5,525.0 2165.0,522.5 2162.5,532.5 2175.0,537.5 2185.0,530.0 2192.5,535.0 2200.0,537.5 2205.0,532.5 2220.0,527.5 2240.0,525.0 2250.0,517.5 2265.0,512.5 2260.0,530.0 2252.5,535.0 2265.0,550.0 2275.0,562.5 2287.5,570.0 2307.5,567.5 2320.0,572.5 2325.0,585.0 2340.0,590.0 2341.0,597.5 2327.5,597.5 2317.5,590.0 2285.0,585.0 2277.5,595.0 2275.0,605.0 2252.5,600.0 2250.0,615.0 2240.0,607.5 2231.0,610.0 2230.0,622.5 2235.0,635.0 2230.0,642.5 2200.0,640.0 2175.0,641.0 2152.5,630.0 2127.5,625.0 2112.5,622.5 2102.5,622.5 2100.0,630.0 2092.5,632.5 2070.0,632.5 2067.5,637.5 2050.0,641.0 2040.0,650.0 2032.5,647.5 2027.5,657.5 2015.0,661.0 2002.5,662.5 2000.0,680.0 2010.0,685.0 2007.5,692.5 2000.0,687.5 2002.5,705.0 2020.0,706.0 2005.0,710.0 2002.5,722.5 2012.5,735.0 2025.0,742.5 2030.0,750.0 2045.0,745.0 2055.0,750.0 2050.0,770.0 2045.0,792.5 2047.5,820.0 2050.0,845.0 2045.0,857.5 2027.5,870.0 2012.5,877.5 2000.0,870.0 1990.0,852.5 1982.5,835.0 1970.0,825.0 1960.0,815.0 1957.5,805.0 1935.0,812.5 1912.5,822.5 1900.0,840.0 1892.5,865.0 1882.5,890.0 1881.0,920.0 1877.5,950.0 1880.0,975.0 1882.5,995.0 1885.0,1010.0 1891.0,1027.5 1888.0,1059.0 1852.5,1057.5 1825.0,1060.0 1822.5,1080.0 1812.5,1095.0 1820.0,1100.0 1845.0,1082.5 1827.5,1096.0 1807.5,1111.0 1790.0,1116.0 1770.0,1106.0 1755.0,1100.0 1757.5,1090.0 1767.5,1087.5 1760.0,1077.5 1747.5,1075.0 1772.5,1107.5 1757.5,1100.0 1755.0,1085.0 1767.5,1087.5 1760.0,1077.5 1745.0,1075.0 1720.0,1070.0 1700.0,1075.0 1699.0,1075.6 1678.4,1083.1 1663.4,1090.6 1650.9,1095.6 1642.1,1105.7 1635.8,1115.7 1615.8,1119.4 1595.8,1126.9 1575.7,1133.2 1558.2,1140.7 1546.9,1146.2 1535.6,1145.7 1530.6,1140.7 1523.1,1135.7 1518.1,1130.7 1514.3,1124.4 1505.6,1126.9 1499.3,1130.7 1490.6,1121.9 1479.3,1110.7 1476.8,1104.4 1451.7,1100.6 1445.5,1115.7 1437.9,1118.2 1430.4,1123.2 1410.4,1125.7 1407.9,1132.0 1401.6,1135.7 1399.1,1143.2 1387.8,1144.5 1380.3,1138.2 1366.6,1148.2 1371.6,1142.0 1365.3,1140.7 1364.0,1134.5 1371.6,1129.4 1380.3,1120.7 1379.1,1106.9 1370.3,1108.2 1360.3,1111.9 1345.3,1103.1 1332.7,1098.1 1317.7,1100.6 1326.5,1093.1 1329.0,1083.1 1325.2,1071.8 1308.9,1065.6 1312.7,1065.6 1306.4,1051.8 1298.9,1045.5 1300.2,1039.3 1308.9,1030.5 1306.4,1023.0 1305.2,1014.2 1311.4,1006.7 1315.2,1000.4 1303.9,991.7 1315.2,992.9 1325.2,989.2 1327.7,981.7 1319.0,979.1 1325.2,977.9 1337.7,980.4 1335.2,972.9 1339.7,962.9 1337.7,955.4 1340.3,949.1 1350.3,946.6 1344.0,940.3 1349.0,942.8 1350.3,950.3 1354.0,955.4 1359.0,952.8 1356.5,944.1 1361.5,949.1 1366.6,942.8 1371.6,932.8 1372.8,924.0 1365.3,916.5 1350.3,917.8 1340.3,915.3 1335.2,922.8 1337.7,912.8 1344.0,905.3 1342.8,902.7 1319.0,906.5 1340.3,900.2 1339.0,892.7 1339.0,880.2 1342.8,875.2 1346.5,860.2 1352.8,852.6 1352.3,840.1 1349.0,827.6 1350.3,815.1 1355.3,805.1" fill="#fff" stroke="#000" stroke-width="2.1"/>
<path d="M1340.3,876.4 1325.2,866.4 1310.2,868.9 1287.6,873.9 1281.4,868.9 1268.9,875.2 1258.8,878.9 1256.3,890.2 1248.8,897.7 1247.6,905.3 1236.3,902.7 1237.5,909 1247.6,911.5 1255.1,917.8 1262.6,920.8 1262.6,912.8 1257.6,905.3 1268.9,902.7 1271.4,890.2 1277.6,894 1282.6,900.2 1277.6,912.8 1287.6,910.3 1291.4,917.8 1293.2,910.3 1290.2,902.7 1282.6,897.7 1283.9,882.7 1290.2,874.7 1310.2,871.4 1325.2,869.7 1339,878.9Z" fill="#fff" stroke="#000" stroke-width="2.1"/>
<path d="M1232.5,956.6 1238.8,959.1 1245.1,971.6 1240.1,979.1 1234.5,980.4Z" fill="#fff" stroke="#000" stroke-width="2.1"/>
<path d="M1519.4,1150.7 1525.6,1155.8 1535.6,1162 1548.2,1167 1554.4,1164.5 1556.9,1157 1553.2,1152 1545.7,1153.2 1539.4,1154.5 1535.6,1148.2 1525.6,1140.7 1521.9,1144.5Z" fill="#fff" stroke="#000" stroke-width="2.1"/>
<path d="M1646.4,640.5 1652.7,626.7 1660.2,630.5 1667.7,628 1672.7,631.7 1680.2,633 1687.8,635.5 1695.3,639.2 1697.8,634.2 1695.3,622.9 1699,617.9 1700.3,610.4 1706.5,605.4 1710.3,610.4 1712.8,619.2 1715.3,625.5 1719.1,633 1716.6,640.5 1714.1,648 1722.8,651.8 1730.3,646.7 1732.8,650.5 1725.3,654.3 1720.3,658 1707.8,656.8 1700.3,653 1696.5,655.5 1696.5,660.5 1691.5,660.5 1690.3,654.3 1682.7,648 1675.2,640.5 1667.7,638 1660.2,636.7 1652.7,639.2Z" fill="#fff" stroke="#000" stroke-width="2.1"/>
<path d="M1432.7,1813.2 1440.2,1803.1 1450.2,1797.6 1465.3,1793.6 1480.3,1784.4 1490.3,1780.6 1497.8,1784.4 1505.4,1780.6 1509.1,1784.4 1502.8,1800.6 1504.1,1815.7 1510.4,1833.2 1517.9,1845.7 1521.6,1852.0 1525.4,1843.2 1532.9,1834.5 1537.9,1825.7 1539.2,1815.7 1542.9,1811.9 1550.4,1813.2 1565.5,1821.9 1570.5,1835.7 1571.7,1853.2 1578.0,1863.3 1585.5,1875.8 1595.5,1885.8 1603.0,1895.8 1609.3,1903.3 1611.7,1915.0 1620.5,1925.1 1625.5,1937.6 1633.0,1941.3 1643.0,1937.6 1653.0,1943.8 1668.1,1947.6 1683.1,1953.9 1693.1,1962.6 1703.1,1972.6 1713.2,1975.2 1710.7,1982.7 1730.7,1990.2 1748.2,2002.7 1750.7,2010.2 1763.3,2017.7 1773.3,2022.7 1780.8,2030.3 1785.8,2045.3 1800.8,2052.8 1808.4,2060.3 1809.6,2075.4 1805.9,2095.4 1800.8,2107.9 1803.3,2120.4 1795.8,2134.2 1792.1,2146.7 1797.1,2155.5 1808.4,2163.0 1818.4,2173.0 1823.4,2183.1 1830.9,2193.1 1838.4,2196.8 1843.4,2210.6 1853.4,2223.1 1864.0,2235.7 1866.4,2243.1 1880.2,2240.6 1886.5,2244.3 1881.5,2248.1 1867.7,2244.3 1865.2,2253.1 1872.7,2260.6 1880.2,2275.6 1886.5,2283.1 1895.2,2290.7 1887.7,2310.7 1897.7,2320.7 1907.8,2330.7 1912.8,2340.8 1907.8,2355.8 1905.3,2365.8 1915.3,2370.8 1922.8,2383.3 1935.3,2365.8 1942.8,2370.8 1945.3,2385.9 1947.8,2400.9 1952.8,2405.9 1955.4,2390.9 1960.4,2380.8 1970.4,2385.9 1977.9,2398.4 1987.9,2403.4 1982.9,2385.9 1980.4,2370.8 1972.9,2358.3 1970.4,2345.8 1965.4,2333.2 1972.9,2330.7 1982.9,2340.8 1987.9,2348.3 1992.9,2338.3 2002.9,2335.8 1997.9,2328.2 1990.4,2328.2 1985.4,2318.2 1980.4,2312.0 1987.9,2306.9 2000.4,2303.7 2006.7,2301.9 2013.0,2310.7 2020.5,2320.7 2028.0,2324.5 2033.0,2320.7 2030.5,2310.7 2028.0,2298.2 2043.0,2294.4 2055.6,2296.9 2056.8,2305.7 2048.0,2303.2 2040.5,2288.2 2036.8,2273.1 2035.5,2264.4 2028.0,2263.1 2010.5,2258.1 2000.4,2245.6 1992.9,2238.1 1980.4,2240.6 1972.9,2244.3 1980.4,2235.6 1990.4,2231.8 1994.9,2224.3 1990.4,2218.0 1980.4,2219.3 1971.6,2225.5 1967.9,2220.5 1965.4,2205.5 1960.4,2185.5 1955.4,2170.4 1957.9,2155.4 1960.4,2145.4 1970.4,2135.4 1976.6,2135.4 1972.9,2142.9 1971.6,2147.9 1980.4,2155.4 1995.4,2160.4 2000.4,2172.9 2014.2,2180.4 2006.7,2170.4 2001.7,2160.4 2013.0,2157.9 2020.5,2167.9 2028.5,2178.4 2026.7,2167.9 2020.5,2157.9 2016.7,2152.4 2025.5,2150.4 2038.0,2157.9 2048.0,2165.9 2045.5,2160.4 2038.0,2152.9 2028.0,2147.9 2020.5,2145.4 2018.0,2135.4 2013.0,2130.3 2020.5,2125.3 2035.5,2127.8 2045.5,2115.3 2055.6,2112.8 2070.6,2115.3 2083.1,2109.0 2088.1,2112.8 2103.1,2117.8 2118.2,2120.3 2130.7,2122.8 2133.2,2132.8 2150.7,2135.4 2168.3,2132.8 2167.0,2140.4 2155.8,2146.6 2140.7,2156.6 2137.0,2172.9 2145.7,2167.9 2155.8,2156.6 2168.3,2146.6 2180.8,2140.4 2193.3,2135.4 2203.3,2114.1 2220.9,2109.8 2238.4,2104.8 2256.0,2105.8 2275.0,2115.0 2282.5,2125.0 2300.0,2127.5 2325.0,2125.0 2300.0,2132.5 2275.0,2137.5 2285.0,2145.0 2270.0,2150.0 2250.0,2142.5 2243.4,2149.1 2225.9,2152.9 2205.9,2154.1 2193.3,2146.6 2180.8,2146.6 2170.8,2150.4 2174.5,2165.4 2168.3,2175.4 2160.8,2182.9 2138.2,2184.2 2137.0,2198.0 2132.0,2208.0 2143.2,2206.7 2175.8,2203.0 2170.8,2213.0 2160.8,2220.5 2170.8,2230.5 2168.3,2240.6 2180.8,2245.6 2173.3,2255.6 2165.8,2263.1 2173.3,2270.6 2185.8,2275.6 2170.8,2278.1 2160.8,2283.1 2167.0,2290.7 2173.3,2298.2 2190.8,2305.7 2192.1,2318.2 2189.6,2335.8 2190.8,2345.8 2195.8,2340.8 2200.8,2350.8 2205.9,2355.8 2203.3,2363.3 2190.8,2360.8 2193.3,2367.1 2205.9,2368.3 2220.9,2365.8 2243.4,2363.3 2230.9,2373.3 2240.9,2378.3 2250.9,2383.3 2264.0,2370.8 2270.0,2365.0 2290.0,2370.0 2295.0,2395.0 2290.0,2410.0 2310.0,2417.5 2345.0,2400.0 2370.0,2375.0 2379.0,2370.0 2390.0,2370.0 2395.0,2380.0 2395.0,2445.0 1426.0,2445.0" fill="#fff" stroke="#000" stroke-width="2.1"/>
<path d="M1887.7,2285.7 1897.7,2277.6 1910.3,2285.7 1920.3,2281.9 1930.3,2284.4 1942.8,2285.7 1947.8,2276.9 1955.4,2283.1 1966.6,2286.9 1977.9,2290.7 1987.9,2293.2 1989.9,2296.9 1980.4,2298.7 1972.9,2306.9 1977.9,2309.4 1992.9,2305.2 1987.9,2308.2 1977.9,2311.2 1966.6,2306.9 1969.1,2298.2 1955.4,2293.2 1942.8,2294.4 1930.3,2290.7 1915.3,2286.9 1910.3,2294.4 1897.7,2290.7 1891.5,2296.9 1887.7,2293.2Z" fill="#fff" stroke="#000" stroke-width="2.1"/>
<path d="M1955.4,2248.1 1970.4,2250.6 1980.4,2258.1 1990.4,2260.6 1997.9,2268.6 2006.7,2276.1 2013,2283.1 2005.5,2278.1 1995.4,2271.9 1985.4,2264.4 1975.4,2256.8 1965.4,2253.6 1954.1,2250.6Z" fill="#fff" stroke="#000" stroke-width="2.1"/>
<path d="M1970.4,2225.5 1977.9,2218 1987.9,2220 1993.4,2226.8 1989.2,2233 1980.4,2234.3 1974.1,2231.8Z" fill="#fff" stroke="#000" stroke-width="2.1"/>
<path d="M2395.0,1718.0 2379.0,1722.5 2370.0,1730.0 2360.0,1745.0 2350.0,1760.0 2335.0,1780.0 2322.5,1795.0 2316.0,1802.5 2320.0,1810.0 2312.5,1820.0 2314.0,1837.5 2307.5,1845.0 2292.5,1845.0 2280.0,1844.0 2275.0,1855.0 2277.5,1865.0 2270.0,1875.0 2267.5,1890.0 2262.5,1905.0 2260.0,1916.0 2260.0,1916.0 2257.5,1930.0 2255.0,1940.0 2240.0,1950.0 2230.0,1962.5 2222.5,1985.0 2220.0,1995.0 2207.5,2002.5 2202.5,2010.0 2215.0,2020.0 2222.5,2035.0 2227.5,2045.0 2237.5,2060.0 2247.5,2072.5 2265.0,2082.5 2282.5,2092.5 2287.5,2097.5 2315.0,2095.0 2345.0,2100.0 2379.0,2105.0 2397.5,2106.0" fill="#fff" stroke="#000" stroke-width="2.1"/></g>
<g><path d="M1407.6,2020.2 1413.8,2000.2 1421.3,1986.4 1433.9,1987.7 1450.1,2005.2 1475.2,2015.2 1485.2,2027.8 1492.7,2044 1502.7,2052.8 1511.5,2067.8 1501.5,2092.4 1490.2,2090.4 1477.7,2092.4 1467.7,2082.9 1457.7,2077.9 1452.6,2070.3 1447.6,2050.3 1433.9,2047.8 1423.8,2042.8 1413.8,2037.8 1410.1,2025.3Z" fill="#FFD5D5"/>
<path d="M1433.9,2048.3 1447.6,2050.3 1451.4,2066.6 1440.1,2060.3Z" fill="#fff" stroke="#000" stroke-width="2.1"/>
<path d="M1585.4,2117.9 1594.2,2106.7 1608,2105.4 1621.7,2112.9 1621.7,2134.2 1610.5,2138 1597.9,2136.7 1590.4,2128Z" fill="#CCFFFF" stroke="#000" stroke-width="4"/>
<path d="M1480.2,2293.3 1490.2,2290.8 1496.5,2299.5 1487.7,2300.8Z" fill="#CCFFFF" stroke="#000" stroke-width="2.1"/>
<path d="M1519,2305.8 1530.3,2303.3 1550.3,2303.8 1552.8,2307.1 1542.8,2311.3 1527.8,2310.8Z" fill="#CCFFFF" stroke="#000" stroke-width="2.1"/>
<path d="M1100,2387.5 1120,2375 1145,2362.5 1165,2370 1185,2362.5 1192.5,2375 1200,2390 1205,2410 1195,2417.5 1185,2410 1172.5,2390 1155,2380 1135,2380 1115,2387.5Z" fill="#FFD5D5"/>
<path d="M827.5,2432.5 870,2400 925,2390 975,2382.5 1010,2375 1065,2375 1072.5,2400 1080,2432.5Z" fill="#FFD5D5"/>
<path d="M947.5,2432.5 950,2407.5 960,2402.5 970,2407.5 977.5,2432.5Z" fill="#fff" stroke="#000" stroke-width="4"/></g>
<g><path d="M1059.3,1217.9 1066.9,1208.3 1070.1,1211.6 1068.1,1220.4 1061.9,1224.9Z" fill="#FFD5D5" stroke="#000" stroke-width="2.1"/>
<path d="M1071.3,543.1 1076.3,545.6 1080.1,565.6 1076.3,564.3 1071.3,561.8Z" fill="#FFD5D5" stroke="#000" stroke-width="2.1"/>
<path d="M1087.6,590.7 1092.6,588.1 1097.6,601.9 1095.1,609.4 1090.1,603.2Z" fill="#FFD5D5" stroke="#000" stroke-width="2.1"/>
<path d="M1077.6,600.7 1082.6,599.4 1085.1,611.9 1081.3,615.7 1078.1,610.7Z" fill="#FFD5D5" stroke="#000" stroke-width="2.1"/>
<path d="M1095.1,583.1 1101.4,579.4 1106.4,584.4 1100.1,590.7Z" fill="#FFD5D5" stroke="#000" stroke-width="2.1"/>
<path d="M1088.8,625.7 1096.3,615.7 1098.8,625.7 1092.6,628.2Z" fill="#FFD5D5" stroke="#000" stroke-width="2.1"/>
<path d="M1080.1,534.3 1085.1,539.3 1081.3,543.1Z" fill="#FFD5D5" stroke="#000" stroke-width="2.1"/>
<path d="M1311.4,1006.7 1317.7,1008 1327.7,1002.9 1340.3,998.4 1347.8,1002.9 1346.5,1014.2 1354,1010.5 1357.8,1000.4 1362.8,1010.5 1366.6,1025.5 1365.3,1038 1361.5,1048 1351.5,1050.5 1337.7,1046 1331.5,1038 1322.7,1030.5 1317.7,1019.2 1311.4,1010.5Z" fill="#FFD5D5" stroke="#000" stroke-width="2.1"/>
<path d="M1370.3,988.4 1385.3,991.7 1395.4,982.9 1402.9,971.6 1390.4,966.6 1400.4,969.1 1412.9,967.9 1410.4,980.4 1416.7,995.4 1419.2,982.9 1420.4,970.4 1427.9,965.4 1441.7,952.8 1451.7,955.4 1456.7,961.6 1451.7,972.9 1455.5,982.9 1454.2,992.9 1441.7,1001.7 1436.7,1011.7 1441.7,1018 1449.2,1024.2 1448,1030.5 1435.4,1035.5 1427.9,1039.3 1434.2,1043 1434.2,1054.3 1425.4,1054.3 1415.4,1049.3 1414.1,1039.3 1407.9,1035.5 1395.4,1036.8 1387.8,1035.5 1386.6,1020.5 1384.1,1002.9 1379.1,992.9Z" fill="#FFD5D5" stroke="#000" stroke-width="2.1"/>
<path d="M1421.7,969.1 1426.7,969.1 1430.4,990.4 1422.9,995.4 1424.9,980.4Z" fill="#FFD5D5" stroke="#000" stroke-width="2.1"/>
<path d="M1376.6,1063.1 1380.3,1058.1 1387.8,1056.8 1395.4,1063.1 1402.9,1068.1 1407.9,1061.8 1412.9,1068.1 1417.9,1078.1 1415.4,1084.4 1400.4,1084.4 1390.4,1078.1 1377.8,1071.8Z" fill="#FFD5D5" stroke="#000" stroke-width="2.1"/>
<path d="M1412.9,1058.1 1422.9,1056.8 1432.9,1065.6 1432.9,1068.1 1425.4,1076.8 1423.4,1090.6 1419.2,1080.6 1415.4,1070.6 1411.6,1063.1Z" fill="#FFD5D5" stroke="#000" stroke-width="2.1"/>
<path d="M1432.9,1056.8 1440.5,1050.5 1451.7,1051.8 1453.5,1058.1 1445.5,1055.6 1437.9,1061.8 1432.9,1063.1Z" fill="#FFD5D5" stroke="#000" stroke-width="2.1"/>
<path d="M1372.3,1039.3 1374.1,1043 1370.3,1053 1364.8,1065.6 1361.5,1076.8 1359,1074.3 1361.5,1060.6 1367.8,1048Z" fill="#FFD5D5" stroke="#000" stroke-width="2.1"/>
<path d="M1307.7,1049.3 1313.9,1046.8 1325.2,1053 1329,1061.8 1325.2,1065.6 1315.2,1063.1 1308.9,1055.6Z" fill="#FFD5D5" stroke="#000" stroke-width="2.1"/>
<path d="M1334,1056.8 1337.7,1055.6 1347.8,1065.6 1345.3,1068.1 1337.7,1061.8Z" fill="#FFD5D5" stroke="#000" stroke-width="2.1"/>
<path d="M1351.5,1051.8 1357.8,1050.5 1359,1055.6 1354,1057.6Z" fill="#FFD5D5" stroke="#000" stroke-width="2.1"/>
<path d="M1351.5,965.4 1354,965.4 1359,975.4 1355.3,986.7 1352.3,985.4Z" fill="#FFD5D5" stroke="#000" stroke-width="2.1"/>
<path d="M1369.1,847.6 1377.8,844.6 1386.6,843.9 1380.3,851.4 1374.1,853.9Z" fill="#FFD5D5" stroke="#000" stroke-width="2.1"/>
<path d="M1376.6,1098.1 1380.3,1094.4 1387.8,1095.6 1391.6,1105.2 1377.8,1104.4Z" fill="#FFD5D5" stroke="#000" stroke-width="2.1"/>
<path d="M1248.8,1036.8 1253.8,1035.5 1255.1,1041.8 1250.1,1045.5Z" fill="#FFD5D5" stroke="#000" stroke-width="2.1"/>
<path d="M1243.8,1049.3 1247.6,1048 1245.1,1054.3 1241.3,1055.6Z" fill="#FFD5D5" stroke="#000" stroke-width="2.1"/>
<path d="M1246.3,1076.8 1252.6,1075.6 1253.8,1080.6 1247.6,1081.1Z" fill="#FFD5D5" stroke="#000" stroke-width="2.1"/>
<path d="M1483,1115.7 1480.5,1108.2 1486.8,1103.1 1484.3,1093.1 1489.3,1083.1 1496.8,1080.6 1499.3,1084.4 1493.1,1090.6 1498.1,1094.4 1503.1,1090.6 1509.3,1089.4 1510.6,1094.4 1505.6,1098.1 1506.8,1105.7 1513.1,1109.4 1512.6,1115.7 1503.1,1113.2 1495.6,1116.9 1490.6,1118.2Z" fill="#FFD5D5" stroke="#000" stroke-width="2.1"/>
<path d="M1678.4,841.4 1682.2,843.9 1678.4,862.7 1670.9,880.2 1663.4,897.7 1658.4,920.3 1654.6,940.3 1649.6,945.3 1646.4,935.3 1648.4,915.3 1654.6,895.2 1663.4,880.2 1669.7,865.2 1674.7,847.6Z" fill="#FFD5D5" stroke="#000" stroke-width="2.1"/>
<path d="M1564.4,1026.7 1584.5,1041.8 1579.5,1054.3 1561.9,1048 1560.7,1035.5Z" fill="#FFD5D5" stroke="#000" stroke-width="2.1"/>
<path d="M1704,612.9 1707.8,611.7 1710.3,620.4 1706.5,622.9Z" fill="#FFD5D5" stroke="#000" stroke-width="2.1"/>
<path d="M1706.5,626.7 1712.8,624.2 1716.6,634.2 1711.6,638 1707.8,633Z" fill="#FFD5D5" stroke="#000" stroke-width="2.1"/>
<path d="M1707.8,644.2 1712.8,643 1715.3,650.5 1710.3,653Z" fill="#FFD5D5" stroke="#000" stroke-width="2.1"/>
<path d="M1681.5,641.7 1687.8,640.5 1691.5,646.7 1685.3,648Z" fill="#FFD5D5" stroke="#000" stroke-width="2.1"/>
<path d="M1662.7,638 1667.7,638 1671.5,646.7 1666.5,645.5Z" fill="#FFD5D5" stroke="#000" stroke-width="2.1"/>
<path d="M1803,562.8 1806.7,559.1 1813,556.6 1816.8,560.3 1816.8,550.3 1821.8,545.8 1830.5,549 1841.8,559.1 1839.3,567.8 1833,566.6 1831.8,557.8 1825.5,556.6 1823,565.3 1828,571.6 1824.3,576.6 1815.5,577.9 1811.8,571.6 1804.2,572.8Z" fill="#FFAAAA" stroke="#000" stroke-width="2.1"/>
<path d="M1826.8,577.9 1834.3,576.6 1838.6,580.4 1837.6,586.6 1831.8,585.4Z" fill="#FFAAAA" stroke="#000" stroke-width="2.1"/>
<path d="M1917,540.3 1922,536.5 1928.2,550.3 1923.2,552.8 1918.2,549Z" fill="#FFAAAA" stroke="#000" stroke-width="2.1"/>
<path d="M1932,556.6 1940.8,555.3 1944.5,559.1 1935.8,561.6Z" fill="#FFAAAA" stroke="#000" stroke-width="2.1"/>
<path d="M1913.2,567.8 1920.7,566.6 1922,570.3 1914.5,575.4Z" fill="#FFAAAA" stroke="#000" stroke-width="2.1"/>
<path d="M1949.5,562.8 1965.8,564.1 1969.6,572.8 1963.3,585.4 1953.3,585.4 1948.3,575.4Z" fill="#FFAAAA" stroke="#000" stroke-width="2.1"/>
<path d="M1968.3,591.6 1980.8,590.4 1985.9,595.4 1973.3,596.6Z" fill="#FFAAAA" stroke="#000" stroke-width="2.1"/>
<path d="M1973.3,604.2 1990.9,595.4 1995.9,585.4 2002.1,580.4 1997.1,594.1 1990.9,600.4 1980.8,604.2Z" fill="#FFAAAA" stroke="#000" stroke-width="2.1"/>
<path d="M1929.5,690.6 1940.8,688.1 1952,685.6 1955.8,678.1 1963.3,680.6 1963.3,684.3 1974.6,686.8 1980.8,699.3 1973.3,703.1 1967.1,706.9 1960.8,714.4 1952,714.4 1950.8,700.6 1947,694.3 1935.8,695.6Z" fill="#FFAAAA" stroke="#000" stroke-width="2.1"/>
<path d="M1983.3,681.8 1993.4,680.6 1997.1,685.6 1990.9,688.1 1984.6,686.8Z" fill="#FFAAAA" stroke="#000" stroke-width="2.1"/>
<path d="M1919.5,733.2 1928.2,734.4 1935.8,726.9 1950.8,724.4 1963.3,725.7 1973.3,721.9 1983.3,728.2 1994.6,736.9 1985.9,739.4 1980.8,745.7 1965.8,749.4 1955.8,750.7 1945.8,755.7 1940.8,765.7 1937,780.8 1930.7,789.5 1927,783.3 1930.7,773.2 1938.3,767 1927,760.7 1920.7,750.7 1928.2,745.7 1923.2,738.2Z" fill="#FFAAAA" stroke="#000" stroke-width="2.1"/>
<path d="M1980.8,721.9 1987.1,715.6 1994.6,719.4 1997.9,728.2 1990.9,729.4Z" fill="#FFAAAA" stroke="#000" stroke-width="2.1"/>
<path d="M1732.8,823.3 1740.4,815.8 1746.6,803.3 1751.6,795.8 1762.9,789.5 1775.4,789.5 1780.4,783.3 1793,783.3 1794.2,785.8 1786.7,787 1782.9,794.5 1779.2,797 1775.4,803.3 1767.9,810.8 1766.7,823.3 1766.7,838.4 1761.7,853.4 1752.9,859.7 1746.6,865.9 1744.1,877.2 1739.1,882.2 1735.4,880.5 1739.1,872.2 1735.4,863.4 1734.1,848.4 1735.4,835.9Z" fill="#FFD5D5" stroke="#000" stroke-width="2.1"/>
<path d="M1541.7,1825.7 1545.4,1830.7 1542.9,1843.2 1547.9,1863.3 1551.7,1870.8 1546.7,1865.8 1542.9,1850.7 1540.4,1835.7Z" fill="#fff" stroke="#000" stroke-width="2.1"/>
<path d="M1550.4,1823.2 1555.5,1818.2 1565.5,1830.7 1566.7,1838.2 1558,1838.2 1551.7,1830.7Z" fill="#fff" stroke="#000" stroke-width="2.1"/>
<path d="M1556.7,1834.5 1565.5,1830.7 1566.7,1838.2Z" fill="#FFD5D5" stroke="#000" stroke-width="2.1"/>
<path d="M1564.2,1858.3 1578,1870.8 1590.5,1883.3 1600.5,1893.3 1588,1885.8 1575.5,1873.3Z" fill="#fff" stroke="#000" stroke-width="2.1"/>
<path d="M1570.5,1893.3 1580.5,1905.9 1588,1915.9 1583,1914.6 1574.2,1903.3Z" fill="#fff" stroke="#000" stroke-width="2.1"/>
<path d="M1646.8,1951.4 1655.6,1948.8 1668.1,1951.4 1670.6,1955.1 1658.1,1956.4 1648,1955.1Z" fill="#FFD5D5" stroke="#000" stroke-width="2.1"/>
<path d="M1646.8,1961.4 1658.1,1960.1 1675.6,1965.1 1683.1,1967.6 1668.1,1967.1 1650.5,1964.6Z" fill="#FFD5D5" stroke="#000" stroke-width="2.1"/>
<path d="M1659.3,1976.4 1671.8,1975.2 1688.1,1978.9 1683.1,1982.2 1665.6,1980.7Z" fill="#FFD5D5" stroke="#000" stroke-width="2.1"/>
<path d="M1629.2,1970.1 1638,1968.9 1639.3,1972.6 1631.8,1974.6Z" fill="#fff" stroke="#000" stroke-width="2.1"/>
<path d="M1572.9,1900 1580.4,1910 1587.9,1913.8 1584.2,1907.5 1577.9,1898.7Z" fill="#fff" stroke="#000" stroke-width="2.1"/>
<path d="M1809.6,2190.6 1818.4,2188.1 1824.6,2194.3 1828.4,2208.1 1833.4,2215.6 1825.9,2213.1 1817.1,2204.4 1810.9,2198.1Z" fill="#FFD5D5" stroke="#000" stroke-width="2.1"/>
<path d="M2054.3,2126.6 2060.6,2122.8 2066.8,2127.8 2065.6,2135.4 2058.1,2136.6Z" fill="#FFD5D5" stroke="#000" stroke-width="2.1"/>
<path d="M2101.9,2144.1 2108.2,2141.6 2114.4,2145.4 2109.4,2149.1 2103.1,2147.9Z" fill="#FFD5D5" stroke="#000" stroke-width="2.1"/>
<path d="M2080.6,2175.4 2090.6,2174.2 2100.6,2172.9 2098.1,2177.9 2095.6,2188 2088.1,2186.7 2081.9,2182.9Z" fill="#FFD5D5" stroke="#000" stroke-width="2.1"/>
<path d="M2111.9,2164.2 2120.7,2160.4 2128.2,2162.9 2124.4,2167.9 2114.4,2168.4Z" fill="#FFD5D5" stroke="#000" stroke-width="2.1"/>
<path d="M2121.9,2221.8 2130.7,2219.3 2140.7,2215.5 2148.2,2218 2153.2,2228 2157,2235.6 2148.2,2240.6 2138.2,2239.3 2130.7,2233 2123.2,2229.3Z" fill="#FFD5D5" stroke="#000" stroke-width="2.1"/>
<path d="M2120.7,2268.1 2128.2,2265.6 2135.7,2270.6 2133.2,2283.1 2129.4,2293.2 2124.4,2288.2 2126.9,2278.1Z" fill="#FFD5D5" stroke="#000" stroke-width="2.1"/>
<path d="M2158.3,2320.7 2170.8,2317 2180.8,2320.7 2173.3,2325.7 2160.8,2324.5Z" fill="#FFD5D5" stroke="#000" stroke-width="2.1"/>
<path d="M2128.2,2330.7 2143.2,2324.5 2147,2327 2138.2,2334.5 2129.4,2335.3Z" fill="#FFD5D5" stroke="#000" stroke-width="2.1"/>
<path d="M2050.5,2243.1 2054.3,2240.6 2063.1,2253.1 2058.1,2254.3 2051.8,2248.1Z" fill="#FFD5D5" stroke="#000" stroke-width="2.1"/>
<path d="M2008,2226.8 2016.7,2231.8 2015.5,2234.3 2009.2,2231.8Z" fill="#FFD5D5" stroke="#000" stroke-width="2.1"/>
<path d="M2063.1,2306.9 2068.1,2303.2 2078.1,2315.7 2075.6,2320.7 2068.1,2315.7Z" fill="#FFD5D5" stroke="#000" stroke-width="2.1"/>
<path d="M2078.1,2325.7 2088.1,2328.2 2090.6,2333.2 2081.9,2332Z" fill="#FFD5D5" stroke="#000" stroke-width="2.1"/>
<path d="M2045.5,2383.3 2055.6,2382.1 2055.6,2387.1 2046.8,2388.9Z" fill="#FFD5D5" stroke="#000" stroke-width="2.1"/>
<path d="M2174.5,2383.3 2185.8,2377.1 2194.6,2374.6 2190.8,2379.6 2178.3,2385.9Z" fill="#FFD5D5" stroke="#000" stroke-width="2.1"/>
<path d="M2215.9,2429.7 2220.9,2410.9 2240.9,2400.9 2238.4,2415.9 2228.4,2430.9Z" fill="#FFD5D5" stroke="#000" stroke-width="2.1"/>
<path d="M1974.1,2407.1 1977.9,2404.6 1982.9,2415.9 1979.1,2420.9 1975.4,2415.9Z" fill="#FFD5D5" stroke="#000" stroke-width="2.1"/>
<path d="M1860.2,2310.7 1865.2,2308.2 1876.4,2319.5 1873.9,2323.2 1865.2,2322Z" fill="#FFD5D5" stroke="#000" stroke-width="2.1"/>
<path d="M1846.4,2285.7 1855.2,2273.1 1860.2,2275.6 1865.2,2290.7 1867.7,2298.2 1855.2,2296.9 1847.6,2293.2Z" fill="#FFD5D5" stroke="#000" stroke-width="2.1"/>
<path d="M1856.4,2253.1 1862.7,2250.6 1863.9,2264.4 1857.7,2268.1Z" fill="#FFD5D5" stroke="#000" stroke-width="2.1"/>
<path d="M1810.1,2189.2 1821.3,2188 1825.1,2191.7 1820.1,2195.5 1823.8,2208 1831.4,2213 1832.6,2216.8 1822.6,2213 1817.6,2204.2 1811.3,2196.7Z" fill="#FFD5D5" stroke="#000" stroke-width="2.1"/>
<path d="M2158.3,2323.2 2180.8,2310.7 2182.1,2315.7 2165.8,2328.2Z" fill="#FFD5D5" stroke="#000" stroke-width="2.1"/>
<path d="M2096.9,2359.5 2104.4,2354.5 2108.7,2362.1 2103.1,2372.1 2098.1,2365.8Z" fill="#fff" stroke="#000" stroke-width="2.1"/>
<path d="M2084.4,2360.8 2090.6,2358.3 2091.9,2365.8 2086.9,2368.3Z" fill="#fff" stroke="#000" stroke-width="2.1"/>
<path d="M2091.9,2382.1 2095.6,2380.8 2098.1,2388.4 2094.4,2388.9Z" fill="#fff" stroke="#000" stroke-width="2.1"/>
<path d="M2142,2392.1 2148.2,2389.6 2150.7,2394.6 2144.5,2397.1Z" fill="#fff" stroke="#000" stroke-width="2.1"/>
<path d="M2173.3,2362.1 2178.3,2360.8 2180.8,2370.8 2177,2372.1Z" fill="#fff" stroke="#000" stroke-width="2.1"/>
<path d="M2046.8,2340.8 2050.5,2338.3 2051.8,2345.8 2048,2348.3Z" fill="#fff" stroke="#000" stroke-width="2.1"/>
<path d="M2041.8,2327 2046.8,2324.5 2048,2330.7 2043,2333.2Z" fill="#000" stroke="#000" stroke-width="2.1"/>
<path d="M1845.1,2283.1 1848.9,2281.9 1850.1,2293.2 1845.6,2291.9Z" fill="#000" stroke="#000" stroke-width="2.1"/>
<path d="M1884,2309.4 1891.5,2308.7 1892.7,2314.5 1885.2,2315.2Z" fill="#000" stroke="#000" stroke-width="2.1"/>
<path d="M2134.5,2230.5 2142,2226.8 2138.2,2233Z" fill="#fff" stroke="#000" stroke-width="2.1"/>
<path d="M1265,2000 1277.5,1997.5 1280,2005 1267.5,2007.5Z" fill="#FFD5D5" stroke="#000" stroke-width="1.8"/>
<path d="M942.5,2202.5 960,2187.5 975,2182.5 982.5,2192.5 997.5,2190 995,2205 982.5,2222.5 970,2217.5 960,2205 947.5,2206Z" fill="#FFD5D5" stroke="#000" stroke-width="2.1"/>
<path d="M955,2192.5 972.5,2185 981,2194 970,2202.5Z" fill="#fff" stroke="#000" stroke-width="4"/>
<path d="M1015,2172.5 1032.5,2170 1040,2180 1039,2187.5 1022.5,2182.5Z" fill="#FFD5D5" stroke="#000" stroke-width="2.1"/></g>
<g><path d="M1188.9,1167.1 1197.6,1167.6 1202.6,1175.2 1210.2,1190.2 1221.4,1207.7 1230.2,1222.7 1240.2,1237.8 1252.7,1252.8 1260.3,1272.8 1267.8,1292.9 1277.8,1305.4" fill="none" stroke="#000" stroke-width="4"/>
<path d="M1205.2,1291.6 1203.1,1297.9 1205.2,1315.4 1205.2,1338 1203.9,1360.5 1202.6,1383.1 1200.1,1393.1 1205.2,1403.1 1210.2,1415.6 1216.4,1430.7 1215.2,1445.7 1208.9,1460.7 1203.9,1480.8 1205.2,1494.5 1192.6,1502.1 1183.9,1498.3 1175.1,1487 1166.3,1473.2 1171.3,1463.2 1173.8,1448.2 1173.8,1434.4 1167.6,1426.9 1156.3,1433.2 1152.5,1446.9 1145,1458.2 1130,1469.5" fill="none" stroke="#000" stroke-width="4"/>
<path d="M1129.8,1469.6 1122.6,1482.8 1117.4,1497.3" fill="none" stroke="#000" stroke-width="4"/>
<path d="M1186.7,1590.2 1195.5,1582.7 1208,1577.7 1215.5,1570.1 1211.8,1555.1 1209.2,1547.6 1220.5,1541.3 1233,1538.8 1248.1,1537.6 1263.1,1542.6 1278.1,1545.1 1293.2,1550.1 1300.7,1560.1 1308.2,1570.1 1320.7,1575.2 1330.7,1571.4 1338.3,1557.6 1345.8,1542.6 1349.5,1525.1 1353.3,1515 1365.8,1510 1385.9,1507.5 1405.9,1507 1423.4,1507.5 1428.4,1512.5 1423.4,1517.5 1408.4,1516.3 1403.4,1522.5 1403.4,1540.1 1408.4,1552.6 1418.4,1558.9 1430.9,1553.9 1436,1545.1 1444,1541.3" fill="none" stroke="#000" stroke-width="4"/>
<path d="M1440.2,1538.9 1442.7,1528.8 1455.3,1526.3 1469,1533.9 1457.8,1540.1 1447.7,1548.9 1452.7,1557.7 1450.2,1572.7 1442.7,1587.7 1432.7,1606.5 1412.7,1612.8 1400.1,1627.8 1398.9,1640.3 1401.4,1650.3 1417.7,1664.1 1415.2,1677.9 1412.7,1692.9 1410.2,1718 1403.9,1730.5 1402.6,1745.5 1407.7,1768.1 1406.4,1788.1 1410.2,1800.6 1415.2,1810.7 1421.4,1815.7 1432.7,1813.2" fill="none" stroke="#000" stroke-width="4"/>
<path d="M1117.4,1497.3 1118.4,1512.8 1125.7,1518.0 1136.0,1522.2 1146.4,1532.5 1147.4,1544.9 1153.6,1553.2 1148.4,1559.4 1128.8,1559.4 1115.3,1544.9 1102.9,1532.5 1092.5,1529.4 1082.2,1536.6 1079.1,1549.1 1082.2,1557.3 1086.3,1576.0 1082.2,1590.5 1067.7,1594.6 1057.3,1586.3 1044.9,1571.8 1032.5,1559.4 1020.1,1553.2 1003.5,1552.8 987.0,1557.3 972.5,1569.8 966.3,1583.2 953.8,1567.7 941.4,1556.3 926.9,1565.6 922.8,1576.0 917.6,1577.0 910.4,1568.7 900.0,1565.6 888.2,1558.9 880.6,1552.7 868.1,1552.2 864.4,1556.4 860.6,1570.2 864.4,1590.2 859.3,1599.0 848.1,1605.3 831.8,1607.8 823.0,1615.3 815.5,1627.8 816.0,1645.4 815.5,1667.9 810.5,1680.4 803.0,1692.9 799.7,1700.5 799.7,1735.5 804.2,1748.1 815.5,1755.6 835.6,1754.3 855.6,1751.8 866.9,1750.6 873.1,1744.3 876.1,1735.5 879.4,1718.0 881.9,1705.5 888.2,1698.0 899.4,1692.9 910.7,1692.9 919.5,1696.7 923.2,1704.2 928.2,1718.0 935.8,1730.5 945.8,1735.5 960.8,1733.0 973.3,1728.0 990.9,1725.5 1005.9,1725.5 1020.9,1729.3 1028.4,1735.5 1027.6,1738.0 1016.4,1753.0 1012.6,1773.0 1017.6,1790.6 1030.1,1790.6 1045.2,1791.8 1060.2,1805.6 1067.7,1813.1 1080.2,1804.4 1092.8,1800.6 1104.0,1810.6 1109.0,1823.1 1100.3,1835.7 1095.3,1855.7 1090.3,1878.3 1097.8,1898.3 1105.3,1910.8 1122.8,1898.3 1140.4,1893.3 1160.4,1890.8 1175.4,1889.5 1188.0,1889.5 1195.5,1883.3 1198.0,1870.7 1201.7,1850.7 1203.0,1813.1 1201.7,1788.1 1193.0,1776.8 1175.4,1773.0 1160.4,1765.5 1140.4,1758.0 1132.8,1753.0 1139.1,1738.0 1140.4,1720.4 1132.8,1706.7 1120.3,1706.7 1112.8,1712.9 1106.5,1733.0 1107.8,1745.5 1115.3,1755.5 1104.0,1765.5 1092.8,1784.3 1077.7,1753.0 1084.0,1735.5 1082.7,1717.9 1065.2,1700.4 1047.7,1695.4 1032.6,1692.9 1026.4,1685.4 1022.6,1655.3 1002.6,1642.8 982.5,1632.8 960.0,1632.8 943.3,1631.6 923.2,1635.3 910.7,1636.6 900.7,1635.3 890.7,1627.8 885.7,1616.5 880.6,1607.8 903.2,1601.5 923.2,1596.5 930.7,1589.0 945.8,1592.2 968.3,1592.7 980.8,1602.8 995.9,1612.8 1010.9,1620.3 1023.4,1627.8 1028.4,1636.6 1036.0,1641.6 1044.0,1644.1 1060.2,1651.6 1080.2,1655.3 1097.8,1655.3 1110.3,1646.5 1114.1,1635.3 1120.3,1620.2 1132.8,1610.2 1145.4,1607.7 1157.9,1611.5 1167.9,1617.7 1172.9,1627.8 1180.4,1637.3 1194.2,1635.3 1195.5,1625.3 1194.2,1615.2 1188.0,1605.2 1186.7,1590.2" fill="none" stroke="#000" stroke-width="4"/>
<path d="M1912.5,825.0 1935.0,832.5 1955.0,842.5 1970.0,852.5 1976.0,862.5 1972.5,880.0 1960.0,895.0 1947.5,907.5 1952.5,925.0 1957.5,945.0 1962.5,970.0 1965.0,995.0 1970.0,1015.0 1987.5,1022.5 2000.0,1027.5 1997.5,1035.0 1985.0,1037.5 1970.0,1040.0 1955.0,1050.0 1940.0,1060.0 1932.5,1075.0 1937.5,1095.0 1947.5,1107.5 1960.0,1115.0 1972.5,1115.0 1980.0,1107.5 2000.0,1097.5 2020.0,1095.0 2045.0,1095.0 2060.0,1100.0 2067.5,1115.0 2070.0,1130.0 2067.5,1145.0 2062.5,1165.0 2065.0,1190.0 2070.0,1216.0 2070.0,1220.0 2080.0,1220.0 2095.0,1240.0 2115.0,1257.5 2140.0,1270.0 2155.0,1285.0 2170.0,1305.0 2187.5,1330.0 2197.5,1350.0 2195.0,1370.0 2180.0,1390.0 2165.0,1410.0 2150.0,1435.0 2130.0,1455.0 2110.0,1470.0 2095.0,1485.0 2092.5,1500.0 2105.0,1525.0 2120.0,1545.0 2135.0,1562.5 2165.0,1565.0 2192.5,1565.0 2205.0,1580.0 2220.0,1592.5 2237.5,1587.5 2250.0,1595.0 2250.0,1610.0 2242.5,1635.0 2235.0,1647.5 2220.0,1650.0 2200.0,1642.5 2182.5,1637.5 2165.0,1645.0 2147.5,1646.0 2140.0,1625.0 2130.0,1605.0 2122.5,1592.5 2110.0,1592.5 2105.0,1615.0 2100.0,1645.0 2085.0,1660.0 2072.5,1685.0 2067.5,1700.0 2072.5,1720.0 2075.0,1750.0 2072.5,1780.0 2070.0,1810.0 2067.5,1835.0 2080.0,1850.0 2100.0,1860.0 2120.0,1857.5 2140.0,1847.5 2165.0,1840.0 2200.0,1837.5 2207.5,1850.0 2212.5,1875.0 2217.5,1900.0 2225.0,1916.0 2225.0,1916.0 2215.0,1910.0 2205.0,1925.0 2197.5,1945.0 2200.0,1960.0 2215.0,1975.0 2222.5,1985.0" fill="none" stroke="#000" stroke-width="4"/>
<path d="M530.2,831.6 546.5,834.1 560.3,836.6 580.3,839.6 595.4,838.4 605.4,839.1 610.4,850.4 616.6,864.2 626.7,868.5 630.4,865.5 635.4,850.4 645.5,840.4 654.2,835.4 661.7,840.4 665,852.9 666.7,870.5 668,888 655.5,900.5 640.4,903 620.4,901.8 611.6,895.5 609.1,884.2 604.1,876.7 592.8,873 586.6,876.7 584.6,886.7 589.1,900.5 599.1,906.8 595.4,914.3 592.8,928.1 585.3,943.1 579.1,951.9 567.8,959.4 555.3,960.6 545.3,956.9" fill="none" stroke="#000" stroke-width="4"/>
<path d="M577.8,966.9 592.8,970.7" fill="none" stroke="#000" stroke-width="3.8"/>
<path d="M571.6,721.4 584.1,722.7 587.8,730.2 584.1,738.9 592.8,726.4 599.1,729.7 617.9,727.7 632.9,726.4 640.4,721.4 654.2,722.7 655.5,718.4 671.8,718.9 672.5,727.7 670.5,740.2 664.2,751.5 654.2,755.2 648,764 640.4,770.3 632.9,775.3 622.9,785.3 620.4,791.6 602.9,790.3 606.6,794.1 620.4,797.8 627.9,799.1 634.2,794.1 630.4,801.6 624.2,807.8 617.9,806.6 606.6,811.6 600.4,820.4 610.4,815.4 620.4,812.8 616.6,819.1 610.4,826.6 615.4,827.9 625.4,820.4 637.9,815.4 646.7,812.8 649.2,808.3 658,807.3 664.2,811.6 675.5,810.3 685.5,810.3 698.1,812.3 715.6,811.6 718.1,809.1 726.9,810.8 731.9,819.1 735.1,827.9 733.1,834.1 726.9,842.9 721.9,852.9 719.3,865.5 713.1,878 710.6,888 703.1,895.5 698.1,904.3 699.3,911.8 691.8,919.3 683,924.3 670.5,930.6 658,933.6 673,925.6 681.8,924.3 683,933.1 691.8,938.1 690.5,945.6 680.5,949.4 670.5,953.1 660.5,963.1 650.5,964.4 635.4,960.6 642.9,965.7 655.5,966.9 668,969.4 676.8,966.9 678,960.6 690.5,959.4 698.1,965.7 710.6,971.9 719.3,976.9 724.4,986.9 733.1,995.7 741.9,1002 744.4,1013.2 743.1,1019.5 745.7,1035.8 753.2,1053.3 758.2,1070.9 768.2,1084.6 780.7,1090.9 795.8,1098.4 803.3,1110.9 809.5,1124" fill="none" stroke="#000" stroke-width="2.1"/>
<path d="M571.6,721.4 566.5,737.7 563.3,749 569,756.5 552.8,755.7 557.3,765.3 556.5,771.5 550.3,772.8 557.8,780.3 566.5,794.6 559,787.8 550.3,786.5 542.7,787.8 537.7,792.8 531.5,794.1 530.2,805.3 531.5,815.4 537.7,821.6 545.3,824.1 542.7,826.6 530.2,822.9 528.2,830.4 531.5,835.4" fill="none" stroke="#000" stroke-width="2.1"/>
<path d="M545.3,956.9 551.5,961.9 555.3,973.2 559,983.2 556.5,968.2 565.3,963.1 576.6,959.4 579.1,968.2 576.6,990.7 585.3,998.2 590.3,1008.2 590.3,1013.2 585.3,1018.3 580.3,1028.3 579.1,1038.3 572.8,1043.3 570.3,1050.8 562.8,1052.1 562.8,1060.8 567.8,1068.4 574.1,1077.1 575.3,1085.9 579.1,1084.6 576.6,1074.6 574.1,1067.1 580.3,1064.6 590.3,1070.9 596.6,1080.9 604.1,1079.6 605.4,1070.9 601.6,1062.1 607.9,1067.1 616.6,1073.4 626.7,1072.9 635.4,1064.6 641.7,1062.1 642.9,1054.6 670.5,1055.8 671.8,1058.8 653,1058.3 646.7,1070.9 642.9,1083.4 640.4,1093.4 649.2,1103.4 654.2,1116 656.7,1124" fill="none" stroke="#000" stroke-width="2.1"/>
<path d="M508.9,732.2 513.9,738.9 512.7,747.7 507.7,756.5 514.7,755.7 512.7,762.7 503.9,765.3 503.9,775.3 500.2,785.3 487.6,787.8 480.1,795.3 487.6,796.6 472.6,806.6 466.3,797.8 478.9,790.3 480.1,787.8 470.1,785.3 466.3,780.3 467.6,775.3 465.1,769 470.1,759.7 476.4,760.2 478.9,770.3 480.1,762.7 485.1,761.5 480.1,756.5 482.6,750.2 488.9,747.7 495.2,745.2 502.7,738.9Z" fill="none" stroke="#000" stroke-width="2.1"/>
<path d="M446.3,814.1 457.6,812.8 462.6,810.3 467.6,815.4 465.1,825.4 460.1,827.9 456.3,826.6 461.3,831.6 460.1,836.6 453.8,835.4 451.3,832.9 455.1,827.9 452.6,822.9 445.1,819.1Z" fill="none" stroke="#000" stroke-width="2.1"/>
<path d="M450.6,839.1 457.6,837.9 461.3,864.2 452.6,864.2Z" fill="none" stroke="#000" stroke-width="2.1"/>
<path d="M443.8,878 450.1,869.2 453.1,875.5 450.1,880Z" fill="none" stroke="#000" stroke-width="2.1"/>
<path d="M483.9,831.6 491.4,817.9 495.2,821.6 501.4,820.4 500.2,814.1 506.4,810.3 513.9,817.9 515.7,830.4 514.7,842.9 516.4,850.4 515.2,855.4 507.7,859.9 502.7,855.4 498.9,847.9 505.2,846.7 500.2,842.9 493.9,837.9 495.2,841.7 490.1,842.9 487.6,836.6Z" fill="none" stroke="#000" stroke-width="2.1"/>
<path d="M521.5,827.9 523.2,832.9 521.5,842.9 518.2,840.4 518.9,832.9Z" fill="none" stroke="#000" stroke-width="2.1"/>
<path d="M472.6,919.3 482.6,915.6 484.6,918.6 476.4,924.3 473.1,924.3Z" fill="none" stroke="#000" stroke-width="2.1"/>
<path d="M486.4,913 497.7,903 499.7,905.5 488.9,915.6Z" fill="none" stroke="#000" stroke-width="2.1"/>
<path d="M518.9,973.2 527.7,958.1 537.2,951.9 532.7,965.7 524,981.9 519.7,983.2Z" fill="none" stroke="#000" stroke-width="2.1"/>
<path d="M496.4,993.2 500.2,978.2 507.7,976.9 516.4,970.7 516.4,984.4 521.5,994.5 513.9,999.5 507.7,1003.2 505.2,990.7 501.4,985.7Z" fill="none" stroke="#000" stroke-width="2.1"/>
<path d="M540.2,959.4 545.3,958.1 550.3,963.1 551.5,978.2 550.3,990.7 545.3,1005.7 542.7,1018.3 535.2,1017 537.7,1000.7 540.2,985.7 537.7,973.2Z" fill="none" stroke="#000" stroke-width="2.1"/>
<path d="M552.8,995.7 560.3,989.4 566.5,995.7 568.3,1005.7 566.5,1015.8 559,1014.5 554,1008.2Z" fill="none" stroke="#000" stroke-width="2.1"/>
<path d="M561.5,970.7 567.8,974.4 571.6,983.2 570.3,989.4 565.3,983.2Z" fill="none" stroke="#000" stroke-width="2.1"/>
<path d="M656.7,671.3 666.7,671.3 673,677.6 675.5,685.1 684.3,690.1 685.5,693.9 680.5,697.1 673,692.6 666.7,693.9 660.5,691.4 654.2,686.3 654.2,677.6Z" fill="none" stroke="#000" stroke-width="2.1"/>
<path d="M651.7,693.9 659.2,692.6 664.2,700.1 665.5,705.6 658,707.1 654.2,702.6Z" fill="none" stroke="#000" stroke-width="2.1"/>
<path d="M671.8,701.4 679.3,701.4 678,710.6 673.5,710.1Z" fill="none" stroke="#000" stroke-width="2.1"/>
<path d="M687.5,666.3 691.8,658.8 696.8,654.5 703.6,654.5 703.1,659.5 694.3,661.3Z" fill="none" stroke="#000" stroke-width="2.1"/>
<path d="M450,366 460,361 461,349 472.5,344 485,350 492.5,341 497.5,347.5 502.5,350 500,360 492.5,357.5 487.5,372.5 485,386 475,380 467.5,370 462.5,376 452.5,372.5Z" fill="none" stroke="#000" stroke-width="2.1"/>
<path d="M477.5,391 492.5,396.5 489,406 477.5,400Z" fill="none" stroke="#000" stroke-width="2.1"/>
<path d="M474,420 481,416 490,435 489,444 481,440Z" fill="none" stroke="#000" stroke-width="2.1"/>
<path d="M777.5,501.5 784,502.5 785,510 781,517.5 775,515Z" fill="none" stroke="#000" stroke-width="2.1"/>
<path d="M745,530 757.5,522.5 759,540 765,525 772.5,512.5 772.5,532.5 766,537.5 770,550 767.5,562.5 762.5,566 760,600 754,597.5 759,570 752.5,552.5 745,567.5 739,562.5 742.5,555 752.5,550 750,540 742.5,537.5Z" fill="none" stroke="#000" stroke-width="2.1"/>
<path d="M452.8,1020 460.3,1022.5 466.6,1028.8 475.3,1031.3 474.1,1036.3 462.8,1041.3 457.8,1048.8 470.3,1048.8 472.8,1040.1 485.4,1036.3 497.9,1032.5 507.9,1034.5 517.9,1033.8 520.4,1045.1 527.9,1056.3 532.9,1063.9 538,1070.1 536.7,1077.6 529.2,1081.4 526.7,1086.4 535.5,1081.4 544.2,1081.4 548,1090.2 550.5,1100.2 549.2,1106.4 544.2,1107.7 543,1117.7 530.4,1121.5 527.9,1129 522.9,1135.3 516.7,1136.5 510.4,1130.2 502.9,1134 496.6,1135.3 507.9,1137.8 516.7,1140.3 504.1,1139 502.9,1147.8 509.1,1152.8 510.4,1165.3 517.9,1175.3 516.7,1185.4 511.7,1194.9 516.7,1202.9 520.4,1212.9 522.4,1222.9 517.9,1232.9 512.9,1245.5 511.7,1258 507.9,1268 502.9,1274.3 497.9,1275.5 500.4,1281.8 506.6,1285.6 504.1,1291.8 495.4,1289.3 480.3,1290.6 475.3,1283 472.8,1283 472.3,1294.3 460.3,1294.3 445.3,1296.8 441.5,1301.8 440.3,1303.1 429,1303.1 424,1309.3 415.2,1315.6 410.2,1321.9 408.9,1316.9 412.7,1314.4 402.7,1315.1 406.4,1319.4 406.4,1325.6 396.4,1330.6 390.2,1338.2 380.1,1340.7 363.9,1341.9 357.6,1348.2 345.1,1345.7 333.8,1351.9 329.5,1350.2 337.6,1343.2 347.6,1338.2 348.8,1328.1 342.6,1330.6 335.1,1335.7 317.5,1339.4" fill="none" stroke="#000" stroke-width="2.1"/>
<path d="M320,1323.1 342.6,1316.9 327.5,1325.6 317.5,1333.1" fill="none" stroke="#000" stroke-width="2.1"/>
<path d="M317.5,1303.1 332.5,1294.3 317.5,1296.8" fill="none" stroke="#000" stroke-width="2.1"/>
<path d="M452.8,1020 454,1026.3 446.5,1030 440.3,1028.8 430.2,1033.8 424,1035.1 420.2,1037.6 407.7,1042.6 400.2,1051.3 398.9,1060.1 405.2,1062.6 402.7,1068.9 390.2,1072.6 381.4,1078.9 382.6,1083.9 395.2,1085.2 412.7,1087.7 410.2,1092.7 397.7,1095.2 388.9,1107.7 397.7,1110.2 397.2,1116.5 387.7,1117.2 372.6,1115.2 366.4,1120.2 364.6,1126.5 360.1,1115.2 353.8,1111.5 332.5,1110.2 328.8,1115.2 322.5,1116.5 317.5,1118.2" fill="none" stroke="#000" stroke-width="2.1"/>
<path d="M317.5,1140.3 332.5,1147.8 342.6,1149 343.8,1157.8 327.5,1160.3 325,1170.3 336.3,1174.1 317.5,1174.1" fill="none" stroke="#000" stroke-width="2.1"/>
<path d="M317.5,1190.9 331.3,1189.1 326.3,1196.6 340.1,1191.6 342.6,1202.9 360.1,1204.1 373.9,1200.4 373.9,1211.7 358.8,1210.4 351.3,1222.9 352.6,1230.4 342.6,1243 325,1260.5 337.6,1256.7 362.6,1258 371.4,1248 377.6,1246.7 380.1,1251.7 367.6,1256.7 337.6,1260.5 335.1,1268 328.8,1275.5 330,1285.6 317.5,1285.6" fill="none" stroke="#000" stroke-width="2.1"/>
<path d="M322.5,1117.7 327.5,1127.7 325,1135.3 332.5,1146.5" fill="none" stroke="#000" stroke-width="2.1"/>
<path d="M430.2,1033.8 436.5,1036.3 441.5,1040.1 442.8,1050.1 437.8,1057.6 449,1048.8 446.5,1042.6 440.3,1028.8" fill="none" stroke="#000" stroke-width="2.1"/>
<path d="M412.7,1100.2 420.2,1110.2 427.7,1115.2 430.2,1121.5 437.8,1122.7 446.5,1129.7 457.8,1129 464.1,1117.7 465.3,1108.9 470.3,1103.9 477.8,1108.9 482.8,1120.2 487.9,1130.2 490.4,1135.3 496.6,1135.3" fill="none" stroke="#000" stroke-width="2.1"/>
<path d="M397.7,1095.2 412.7,1100.2" fill="none" stroke="#000" stroke-width="2.1"/>
<path d="M536.7,1090.2 541.7,1092.7 546.7,1106.4 544.2,1107.7 539.2,1096.4Z" fill="none" stroke="#000" stroke-width="2.1"/>
<path d="M583,1135.3 588.1,1120.2 595.6,1107.7 605.6,1103.9 607.6,1115.2 603.1,1125.2 593.1,1132.7Z" fill="none" stroke="#000" stroke-width="2.1"/>
<path d="M593.8,1194.1 598.1,1189.1 606.8,1188.4 611.9,1196.6 620.1,1198.4 614.4,1204.1 606.8,1211.7 601.8,1212.9 595.6,1205.4Z" fill="none" stroke="#000" stroke-width="2.1"/>
<path d="M590.6,1007.5 588.1,1015 580.5,1022.5 579.3,1033.8 571.8,1042.6 568,1051.3 563,1053.8 562.5,1062.6 568,1070.1 573,1076.4 574.3,1083.9 579.3,1085.2 576.8,1075.1 574.3,1070.1 580.5,1063.9 593.1,1072.6 596.8,1078.9 603.1,1081.4 605.1,1075.1 601.8,1063.9 610.6,1070.1 618.1,1073.9 626.9,1072.6 635.7,1065.1 643.2,1062.6 643.7,1054.6 670.7,1056.3 671.2,1058.8 653.2,1058.8 646.9,1072.6 643.2,1085.2 641.2,1096.4 649.4,1106.4 653.2,1117.7 659.4,1127.7 664.5,1132.7 673.2,1127.7 682,1122.2 680.7,1135.3 675.7,1144 670.7,1146.5 670.7,1160.3 677.7,1162.8 672,1170.3 667,1177.8 672,1185.4 675.7,1196.6 684.5,1199.1 687,1195.4 680.7,1198.4 674.5,1194.1 664.5,1190.4 668.2,1202.9 655.7,1195.4 643.2,1200.4 630.6,1201.6 620.6,1204.1 610.6,1209.1 605.6,1215.4 601.8,1222.9 593.1,1230.4 584.3,1239.2 585.6,1241.7 595.6,1239.2 601.8,1232.9 614.4,1230.4 616.9,1240.5 620.6,1246.7 616.9,1254.2 619.4,1263 618.1,1273 610.6,1283 598.1,1286.8 588.1,1289.3 580.5,1298.1 568,1305.6 559.2,1314.4 566.8,1319.4 560.5,1328.1 568,1330.6 579.3,1328.1 571.8,1333.1 570.5,1338.2 580.5,1336.9 588.1,1329.4 601.8,1326.9 608.1,1330.6 618.1,1331.9 609.3,1336.9 608.1,1341.9 616.9,1343.2 628.1,1336.9 635.7,1343.2 646.9,1354.4 663.2,1355.7 670.7,1346.9 680.7,1341.9 693.3,1333.1 704.5,1324.4 690.8,1343.2 675.7,1354.4 670.7,1360.7 670.7,1369.5 659.4,1370.7 645.7,1368.2 633.1,1367 613.1,1369.5 610.6,1374.5 610.1,1383.2 603.1,1385.8 596.8,1384.5 594.3,1400.8 594.3,1405.8 584.3,1412.1 581.8,1419.6 570.5,1424.6 569.3,1433.3 563,1440.9 551.7,1450.9 545.5,1448.4 536.7,1453.4 535.5,1459.6 539.2,1460.9 546.7,1455.9 558,1460.9 560.5,1467.2 568,1463.4 570.5,1452.1 584.3,1440.9 596.8,1439.6 615.6,1437.1 620.6,1440.9 626.9,1442.1 633.1,1448.4 640.7,1447.1 644.4,1435.9 648.2,1420.8 656.9,1413.3 670.7,1410.8 678.2,1408.3 690.8,1413.3 699.5,1420.8 700.8,1415.8 713.3,1414.6 723.3,1415.8 720.8,1409.5 735.9,1407 753.4,1404.5 765.9,1399.5 775.9,1400.8 783.4,1407 794,1402" fill="none" stroke="#000" stroke-width="2.1"/>
<path d="M745.9,1412.1 757.1,1405.8 769.7,1410.8 760.9,1419.6 753.4,1417.1Z" fill="none" stroke="#000" stroke-width="2.1"/>
<path d="M809.6,1123.9 813.9,1126.4 818.9,1128.9 813.9,1132.7 811.4,1138.9 817.6,1150.2 826.4,1165.3 831.4,1172.8 830.1,1176.5 823.9,1170.3 813.9,1166.5 807.6,1162.2 801.3,1164 792.6,1162.7 787.6,1165.3 797.6,1164.7 810.1,1164 817.6,1176.5 828.9,1184 835.2,1190.3 840.2,1202.8 840.7,1215.4 832.6,1221.6 823.9,1233.4 830.1,1234.1 835.2,1241.7 843.9,1240.4 846.4,1231.6 851.4,1226.6 872.7,1227.9 890.3,1230.4 900.3,1237.9 907.8,1245.4 911.6,1257.9 910.3,1273 906.5,1286.7 904,1299.3 895.3,1308 889,1311.8 885.3,1305.5 880.2,1304.3 887.8,1316.8 882.7,1323.1 876.5,1324.3 872.7,1320.6 860.2,1326.8 860.2,1330.6 870.2,1326.8 871.5,1338.1 865.2,1343.1 855.2,1344.4 846.4,1346.9 843.9,1350.6 852.7,1346.9 860.2,1349.4 852.7,1354.4 870.2,1358.1 876.5,1356.9 892.8,1355.6 895.3,1360.6 894,1373.2 882.7,1376.9 874,1383.2 871.5,1390.7 862.7,1393.2 856.4,1399.5 845.2,1402 835.2,1407 822.6,1403.2 811.4,1400.7 797.6,1403.2 785.1,1404.5 780,1408.2 773.8,1400.7 765,1400.7 760,1405.7 767.5,1409.5 770,1414.5 762.5,1420.8 755,1419.5" fill="none" stroke="#000" stroke-width="2.1"/>
<path d="M1189.6,1167.8 1180.8,1171.5 1177.1,1180.3 1174.6,1190.3 1177.1,1195.3 1192.1,1197.8 1185.9,1199.1 1177.1,1196.6 1169.6,1191.6 1167.1,1186.5 1160.8,1184.8 1145.8,1187.8 1130.7,1190.3 1115.7,1195.3 1101.9,1200.3 1095.7,1206.6 1093.2,1216.6 1078.1,1229.1 1061.9,1226.6 1059.3,1240.4 1056.8,1252.9 1054.3,1266.7 1050.6,1276.7 1045.6,1288 1040.6,1298 1034.3,1309.3 1028,1318.1 1023,1324.3 1033,1330.6 1034.3,1334.3 1020.5,1335.6 1010.5,1336.8 999.2,1341.9 996.7,1345.6 1005.5,1351.9 1018,1354.4 1030.5,1356.1 1018,1359.4 1004.2,1356.1 993,1356.9 980.4,1360.6 967.9,1368.2 952.9,1378.2 945.4,1381.2 930.3,1384.4 912.8,1388.7 905.3,1395.7 902.8,1410.7 902.3,1425.8 900.3,1435.8 899,1450.8 895.3,1460.8 885.3,1468.4 872.7,1473.4 855.2,1475.9 842.7,1483.4 832.6,1488.4 830.1,1498.4 827.6,1503.4 832.6,1508.4 847.7,1505.9 837.7,1508.4 827.6,1510.9 820.1,1517.2 810.1,1519.7 797.6,1518.5 780,1517.2 767.5,1513.4 755,1513.4" fill="none" stroke="#000" stroke-width="2.1"/>
<path d="M1008,1330.6 1018,1326.8 1026.8,1328.1 1034.3,1333.1 1025.5,1335.6 1015.5,1334.3 1008,1330.6" fill="none" stroke="#000" stroke-width="2.1"/>
<path d="M1010.5,1340.6 1025.5,1339.3 1036.8,1346.9 1038.1,1353.1 1025.5,1349.4 1015.5,1345.6" fill="none" stroke="#000" stroke-width="2.1"/>
<path d="M1030.5,1356.1 1038.1,1356.9 1039.3,1365.7" fill="none" stroke="#000" stroke-width="2.1"/>
<path d="M1055.6,1252.9 1070.6,1247.9 1077.6,1230.4 1093.2,1216.6" fill="none" stroke="#000" stroke-width="4"/>
<path d="M1083.1,1192.3 1103.2,1185.8 1103.7,1187.8 1085.7,1194.8Z" fill="none" stroke="#000" stroke-width="2.1"/>
<path d="M1093.2,1216.6 1095.7,1227.9 1094.4,1235.4 1109.4,1237.9 1104.4,1242.9 1106.9,1254.2 1117,1256.7 1118.2,1265.5 1114.5,1270.5 1100.7,1278 1099.4,1283 1093.2,1284.2 1083.1,1279.2 1073.1,1275.5 1064.4,1271.7 1054.3,1266.7" fill="none" stroke="#000" stroke-width="2.1"/>
<path d="M1078.1,1230.4 1088.2,1242.9 1085.7,1247.9 1075.6,1255.4 1080.6,1273" fill="none" stroke="#000" stroke-width="2.1"/>
<path d="M1085.7,1247.9 1095.7,1252.9 1098.2,1260.4 1080.6,1273" fill="none" stroke="#000" stroke-width="2.1"/>
<path d="M1098.2,1260.4 1117,1256.7" fill="none" stroke="#000" stroke-width="2.1"/>
<path d="M1185.9,1199.1 1184.6,1225.4 1178.3,1240.4 1175.8,1252.9 1160.8,1254.2 1159.5,1266.7 1173.3,1270.5 1177.1,1275.5 1175.8,1286.7 1165.8,1295.5 1160.8,1303 1164.6,1309.3 1155.8,1314.3 1145.8,1316.8 1135.8,1314.3 1123.2,1319.3 1127,1328.1 1134.5,1343.1 1134.5,1358.1 1128.2,1365.7 1128.2,1376.9 1118.2,1381.9 1119.5,1389.4 1127,1390.7 1127,1400.7 1123.2,1405.7 1137,1418.3 1138.3,1425.8 1143.3,1430.8 1143.3,1438.3 1133.2,1445.8 1130.7,1453.3 1132,1465.9" fill="none" stroke="#000" stroke-width="2.1"/>
<path d="M993,1356.9 991.7,1363.1 995.5,1366.9 1001.7,1361.9 1008,1363.1 1018,1369.4 1030.5,1363.1 1038.1,1356.9 1045.6,1358.1 1044.3,1350.6 1050.6,1353.1 1056.8,1350.6 1063.1,1345.6 1068.1,1353.1 1075.6,1346.9 1080.6,1360.6 1085.7,1363.1 1093.2,1365.7 1100.7,1364.4 1103.2,1370.7 1115.7,1373.2 1110.7,1390.7 1106.9,1400.7 1110.7,1404.5 1119.5,1389.4" fill="none" stroke="#000" stroke-width="2.1"/>
<path d="M951.6,1379.4 952.9,1393.2 957.9,1402 967.9,1409.5 972.9,1403.2 981.7,1403.2 986.7,1413.2 988,1423.3 998,1427 1006.7,1430.8 1009.2,1438.3 1025.5,1438.3 1034.3,1447.1 1033,1463.3 1030.5,1467.1 1059.3,1469.6 1060.6,1455.8 1065.6,1452.1 1066.9,1465.9 1069.4,1479.6 1083.1,1488.4 1095.7,1495.9 1098.2,1502.2 1115.7,1499.7" fill="none" stroke="#000" stroke-width="2.1"/>
<path d="M1132,1465.9 1123.2,1452.1 1115.7,1460.8 1110.7,1470.9 1113.2,1483.4 1118.2,1490.9 1115.7,1499.7" fill="none" stroke="#000" stroke-width="2.1"/>
<path d="M1132,1465.9 1135.8,1470.9 1149.5,1480.9 1148.3,1490.9 1143.3,1498.4 1140.8,1508.4 1135.8,1510.9 1125.7,1508.4 1115.7,1499.7" fill="none" stroke="#000" stroke-width="2.1"/>
<path d="M883.1,1470 851.8,1477.5 833,1487.5 828,1502.6 831.8,1506.3 848.1,1506.3 835.6,1508.8 825.5,1516.3 813,1520.1 806.7,1518.8 800.5,1515.1 785.5,1515.1 769.2,1511.3 760.4,1502.6 757.9,1497.6 745.4,1492.5 735.4,1490 726.6,1486.3 725.3,1490 730.3,1492.5 731.6,1510.1 740.4,1522.6 742.9,1532.6 745.4,1542.6 746.6,1560.2 754.1,1568.9 744.1,1569.7 732.8,1571.5 730.3,1565.2 722.8,1566.4 724.1,1579 720.3,1571.5 710.3,1567.7 701.5,1568.9 695.3,1575.2 687.8,1580.2 680.2,1568.9 672.7,1558.9 665.2,1551.4 655.2,1553.9 646.4,1556.4 643.9,1565.2 633.9,1563.9 630.1,1568.9 623.9,1563.9 597.6,1568.9 590.1,1575.2 582.5,1580.2 582.5,1592.7 597.6,1592.2 613.9,1594.7 597.6,1594 592.6,1597.8 597.6,1600.3 607.6,1602.8 606.3,1609 587.6,1614 597.6,1616.5 605.1,1625.3 605.1,1632.8 613.9,1632.3 618.9,1626.6 623.9,1627.3 630.1,1632.8 640.2,1634.1 655.2,1640.3 665.2,1645.4 666.5,1656.6 666.5,1648.4 677.7,1647.9 687.8,1645.4 687.8,1650.4 680.2,1651.6 682.7,1655.4 692.8,1653.4 701.5,1656.6 696.5,1662.9 696.5,1670.4 701.5,1672.4 707.8,1672.9 716.6,1670.4 725.3,1667.9 735.4,1675.4 720.3,1672.9 715.3,1674.2 715.3,1682.9 722.8,1691.7 716.6,1703 717.8,1706.7 730.3,1718 732.8,1728 745.4,1733 760.4,1741.8 766.7,1741.8 767.9,1750.6 764.2,1753.1 770.4,1760.6 769.2,1770.6 764.2,1774.4 765.4,1779.4 760.4,1780.6 761.7,1786.1 772.9,1790.6 784.2,1800.7 788,1808.2 790.5,1823.2 796.7,1833.2 795.5,1843.2 790.5,1830.7 786.7,1823.2 785.5,1810.7 777.9,1803.2 769.2,1795.7 766.7,1800.7 764.2,1820.7 761.7,1840.7 760.4,1858.3 765.4,1852 771.7,1855.8 770.4,1859.5 762.9,1860.8 759.1,1883.3 757.9,1895.9 752.9,1920.9 750.4,1935.9 744.1,1944.7 735.4,1949.7 720.3,1954.7" fill="none" stroke="#000" stroke-width="2.1"/>
<path d="M689,1508.8 696.5,1502.6 697.8,1508.8 691.5,1510.1Z" fill="none" stroke="#000" stroke-width="2.1"/>
<path d="M659.7,1662.9 669,1667.9 667.7,1670.9 661.5,1669.1Z" fill="none" stroke="#000" stroke-width="2.1"/>
<path d="M745.9,1746.8 759.1,1750.6 759.1,1753.1 746.6,1749.3Z" fill="none" stroke="#000" stroke-width="2.1"/>
<path d="M754.1,1761.8 761.7,1768.1 766.7,1774.4 764.2,1779.4 757.9,1770.6 754.1,1765.6Z" fill="none" stroke="#000" stroke-width="2.1"/>
<path d="M701.5,1660.4 702.8,1644.1 715.3,1642.8 735.4,1652.9 749.1,1664.1 749.1,1684.2 732.8,1691.7 716.6,1703" fill="none" stroke="#000" stroke-width="4"/>
<path d="M571,2400 572.7,2370 579.3,2356.7 591,2350 614.3,2347.3 624.3,2351.7 627.7,2360 654.3,2361.7 666,2360 679.3,2341.7 689.3,2326.7 701,2310 721,2300 739.3,2293.3 754.3,2286.7 767.7,2286.7 787.7,2303.3" fill="none" stroke="#000" stroke-width="4"/>
<path d="M902.7,2095 901,2076.7 907.7,2053.3 917.7,2041.7 929.3,2033.3 934.3,2046.7 966,2058.3" fill="none" stroke="#000" stroke-width="4"/>
<path d="M759.3,1890 754.3,1913.3 749.3,1936.7 742.7,1946.7 732.7,1950.7 717.7,1955 697.7,1951.7 682.7,1948.3 671,1950 657.7,1946.7 644.3,1940 627.7,1945 607.7,1946.7 587.7,1946.7 571,1944 559.3,1941.7 551,1936.7 537.7,1936 530.3,1930.7 521,1935 501,1935 481,1936.7 469.3,1938.3 457.7,1936 447.7,1925 429.3,1923.3 419.3,1926.7 409.3,1933.3 404.3,1945 394.3,1951.7 381,1953.3 371,1960 362.7,1963.3 357.7,1971.7 358.3,1980 364.3,1983.3 367,1993.3 374.3,1991.7 369.3,2005 382.7,1996.7 379.3,2006.7 377.7,2015 389.3,2015 384.3,2023.3 377,2036.7 377.7,2056.7 381,2073.3 384.3,2090 387.7,2106.7 387.7,2123.3 382.7,2146.7 376,2173.3 371,2190 364.3,2205 356,2218.3 352.7,2233.3 349.3,2243.3 347,2258.3 357.7,2261.7 354.3,2250 364.3,2251.7 370.3,2245 374.3,2253.3 367.7,2261.7 361,2266.7 362.7,2276.7 374.3,2273.3 386,2273.3 387.7,2278.3 382.7,2281.7 382.7,2300 379.3,2310 382.7,2326.7 381,2343.3 376,2356.7 372.7,2365 384.3,2360 401,2360 417.7,2365 434.3,2360 451,2355 471,2352.7 484.3,2360 497.7,2370 502.7,2378.3 501,2386.7 512.7,2396.7 514.3,2408.3 521,2416.7 534.3,2426.7 541,2431.7 551,2428.3 554.3,2420 557.7,2413.3 566,2403.3 572.7,2400 587.7,2396.7 597.7,2390 602.7,2383.3 621,2385 637.7,2381.7 654.3,2386.7 664.3,2383.3 682.7,2380 691,2386.7 701,2376.7 709.3,2378.3 719.3,2383.3 727.7,2370 729.3,2360 737.7,2346.7 751,2336.7 767.7,2331.7 786,2330 781,2323.3 786,2310 791,2295 797.7,2281.7 809.3,2273.3 821,2268.3 832.7,2258.3 827.7,2251.7 819.3,2246.7 811,2230 806,2210 811,2196.7 821,2180 834.3,2163.3 847.7,2143.3 854.3,2135 867.7,2128.3 859.3,2120 871,2106.7 887.7,2100 904.3,2095 931,2090 947.7,2076.7 966,2070" fill="none" stroke="#000" stroke-width="2.1"/>
<path d="M377,2036.7 396,2036.7 409.3,2033.3 416,2041.7 412.7,2053.3 424.3,2055 437.7,2050 454.3,2046.7 464.3,2044 481,2046 492.7,2046.7 496,2060 501,2063.3 509.3,2066.7 511.7,2072.7 506,2081.7 497.7,2090 487.7,2095 476,2108.3 482.7,2118.3 482,2143.3 481,2156.7 471,2161.7 474.3,2166.7 477.7,2176.7 469.3,2196.7 444.3,2198.3 452.7,2210 457.7,2221.7 464.3,2233.3 472.7,2233.3 474.3,2240 464.3,2253.3 457.7,2258.3 456,2276.7 464.3,2288.3 474.3,2291.7 472.7,2303.3 459.3,2306.7 456,2316.7 446,2331.7 449.3,2340 451,2355" fill="none" stroke="#000" stroke-width="2.1"/>
<path d="M734.3,1951.7 751,1956.7 754.3,1968.3 767.7,1973.3 781,1978.3 791,1988.3 804.3,1986.7 821,1993.3 827.7,1996.7 857.7,1995 884.3,1996.7 897.7,2000 907.7,2000 911,2005 901,2011.7 921,2010 931,2018.3 944.3,2015 966,2021.7" fill="none" stroke="#000" stroke-width="2.1"/>
<path d="M809.3,2236.7 817.7,2248.3 819.3,2266.7" fill="none" stroke="#000" stroke-width="3.8"/>
<path d="M884.3,2246.7 892.7,2235 902.7,2231.7 903.7,2240 897.7,2248.3 889.3,2250Z" fill="none" stroke="#000" stroke-width="2.1"/>
<path d="M892.7,2258.3 901,2258.3 902.7,2261.7 894.3,2262.7Z" fill="none" stroke="#000" stroke-width="2.1"/>
<path d="M965,2070 985,2050 986,2030 990,2022.5 982.5,2017.5 975,2000 972.5,1984" fill="none" stroke="#000" stroke-width="2.1"/>
<path d="M965,2021 986,2024" fill="none" stroke="#000" stroke-width="2.1"/>
<path d="M1257.9,270 1265.4,282.5 1269.2,297.6 1269.9,311.3 1265.4,322.6 1257.9,331.4 1247.9,333.1 1230.4,331.4 1210.3,330.6 1202.8,336.4 1199,347.7 1190.3,360.2 1187.8,370.2 1190.3,382.7 1193.3,389.7 1215.3,390.3 1230.4,392.8 1245.4,395.3 1257.9,402.8 1271.7,409 1277.5,417.8 1276.7,430.3 1270.4,437.8 1262.9,437.8 1255.4,434.1 1244.1,437.8 1234.1,446.6 1230.4,462.9 1227.9,475.4 1232.9,485.4 1235.4,503 1237.4,513 1242.9,505.5 1252.9,493 1267.9,485.9 1276.7,491.7 1284.2,499.2 1294.2,500.5 1303,509.2 1315.5,525.5 1321.8,540.6 1322.5,553.1 1319.3,561.8 1308,565.6 1296.7,574.4 1284.2,586.9 1270.4,595.7 1256.7,599.4 1247.9,588.1 1236.6,574.4 1225.4,560.6 1219.1,548.1 1218.3,535.5 1215.3,550.6 1210.3,560.6 1206.6,575.6 1204.1,595.7 1202.8,615.7 1200.3,633.2 1199.8,650.8 1196.5,660.8 1191.5,664.5 1186.5,658.3 1182.8,649.5 1175.3,645.8 1167.7,640.8 1160.2,628.2 1157.7,615.7 1159,600.7 1167.7,589.4 1177.8,586.9 1186.5,578.1 1192.8,573.1 1195.3,560.6 1197.8,540.6 1199,520.5 1194,515.5 1189,523 1185.3,529.3 1179,526.8 1172.7,528 1167.7,523 1164,510.5 1161.5,495.5 1157.7,482.9 1151.5,476.7 1142.7,477.9 1140.2,487.9 1135.2,495.5 1122.6,503 1112.6,511.7 1106.4,520.5 1100.1,528 1091.3,533" fill="none" stroke="#000" stroke-width="4"/>
<path d="M1433.3,271 1427.8,282.5 1430.8,297.6 1428.8,317.6 1433.3,330.1 1438.3,340.2 1440.8,352.7 1437.8,370.2 1435.8,385.2 1432.8,400.3 1433.3,410.3 1445.8,424.1 1453.3,425.3 1460.8,437.8 1468.3,447.9 1465.8,462.9 1460.8,476.7 1445.8,480.4 1437.8,485.4 1442,496.7 1445.8,510.5 1452.1,523 1456.3,538 1453.3,553.1 1452.1,570.6 1445.8,583.1 1433.3,596.9 1420.7,599.4 1417,604.4 1420.7,610.7 1418.2,619.5 1410.7,625.7 1412,640.8 1415.7,655.8 1413.2,670.8 1408.2,685.8 1403.2,695.4 1396.9,694.6 1394.4,678.3 1390.7,675.8 1383.2,684.6" fill="none" stroke="#000" stroke-width="2.1"/>
<path d="M1096.3,708.4 1101.4,695.9 1101.4,683.3 1108.9,688.3 1116.4,685.8 1125.2,695.9 1136.4,700.4 1126.4,696.4 1125.2,690.9 1132.7,685.8 1154,680.3 1133.9,685.8 1122.6,688.3 1118.1,675.8 1125.2,665.8 1130.7,659.5 1125.2,652 1136.4,635.7 1146.4,630.7 1135.2,633.2 1128.9,642 1123.9,635.7 1117.6,625.7 1103.9,624.5 1090.1,632 1083.1,638.2 1081.3,669.6 1088.1,669.6 1089.6,658.3 1101.4,654.5 1103.1,648.3 1112.6,652 1120.1,640.8 1112.6,633.2 1100.1,635.7 1096.3,629.5 1097.6,618.2 1103.9,614.4 1116.4,613.2 1130.2,611.9 1138.9,603.2 1130.2,608.2 1120.1,609.4 1111.4,605.7 1108.9,598.2 1115.1,588.1 1125.2,583.1 1122.6,573.1 1130.2,563.1 1136.4,556.8 1133.9,548.1 1141.4,544.3 1152.7,541.8 1160.2,539.3 1166.5,534.3 1172.7,529.3 1179,535.5 1178.3,539.3 1170.2,536.8 1160.2,545.6 1152.7,563.1" fill="none" stroke="#000" stroke-width="2.1"/>
<path d="M1091.3,533 1085.1,538 1080.1,530.5 1072.5,523 1067.5,513 1077.6,518 1087.6,515.5 1080.1,506.7 1072.5,505.5 1087.6,500.5 1096.3,495.5 1101.4,498 1090.1,501.7 1087.6,509.2 1095.1,518 1101.4,515.5 1106.4,520.5" fill="none" stroke="#000" stroke-width="2.1"/>
<path d="M1141.4,477.9 1132.7,472.9 1117.6,470.4 1100.1,474.2 1090.1,479.2 1077.6,477.9 1073.8,487.9 1076.3,499.2 1082.6,505.5 1087.6,500.5" fill="none" stroke="#000" stroke-width="2.1"/>
<path d="M1145.2,469.2 1160.2,464.1 1175.3,467.9 1190.3,462.9 1196.5,465.4 1190.3,472.9 1175.3,474.2 1180.3,485.4 1182.8,491.7 1180.3,498" fill="none" stroke="#000" stroke-width="2.1"/>
<path d="M1073.8,459.1 1087.6,455.4 1100.1,459.1 1090.1,462.9 1080.1,467.9 1082.6,462.9 1073.8,459.1 1071.3,445.4 1082.6,440.4 1075.1,435.3 1072.5,425.3 1082.6,420.3 1092.6,425.3 1087.6,430.3 1096.3,440.4" fill="none" stroke="#000" stroke-width="2.1"/>
<path d="M1083.8,397.8 1075.1,392.8 1066.3,394 1065,400.3 1071.3,404 1075.1,412.8 1072.5,420.3 1082.6,420.3" fill="none" stroke="#000" stroke-width="2.1"/>
<path d="M1189,452.9 1192.8,442.9 1202.8,436.6 1195.3,440.4 1190.3,450.4 1192.8,462.9 1200.3,457.9" fill="none" stroke="#000" stroke-width="2.1"/>
<path d="M1077.6,362.7 1082.6,357.7 1093.8,365.2 1100.1,372.7 1093.8,379 1082.6,382.7 1080.1,389 1095.1,387.7 1117.6,390.3 1145.2,399 1160.2,394" fill="none" stroke="#000" stroke-width="2.1"/>
<path d="M1100.1,372.7 1095.1,360.2 1102.6,351.4 1115.1,347.7 1117.6,337.6 1125.2,333.9 1135.2,336.4 1150.2,327.6 1160.2,330.1 1167.7,315.1 1157.7,311.3 1160.2,302.6 1170.2,300.1 1172.7,280 1180.3,273.8 1200.3,271" fill="none" stroke="#000" stroke-width="2.1"/>
<path d="M1125.2,333.9 1137.7,340.2 1155.2,332.6 1172.7,342.7" fill="none" stroke="#000" stroke-width="2.1"/>
<path d="M1170.2,300.1 1190.3,302.6 1200.3,315.1 1210.3,310.1 1225.4,297.6 1240.4,292.6 1252.9,302.6 1255.4,307.6" fill="none" stroke="#000" stroke-width="2.1"/>
<path d="M1235.4,280 1245.4,290.1 1250.4,271" fill="none" stroke="#000" stroke-width="2.1"/>
<path d="M1063.8,467.9 1070,465.4 1073.8,470.4 1071.3,476.7 1063.8,479.9Z" fill="none" stroke="#000" stroke-width="2.1"/>
<path d="M1077.6,360.2 1083.8,356.4 1090.1,365.2 1086.3,370.2Z" fill="none" stroke="#000" stroke-width="2.1"/>
<path d="M1101.4,351.4 1108.9,348.9 1112.6,355.2 1106.4,359.7Z" fill="none" stroke="#000" stroke-width="2.1"/>
<path d="M1137.7,315.1 1150.2,313.8 1151.5,321.4 1141.4,322.6Z" fill="none" stroke="#000" stroke-width="2.1"/>
<path d="M1157.7,302.6 1167.7,300.1 1169,306.3 1160.2,307.6Z" fill="none" stroke="#000" stroke-width="2.1"/>
<path d="M1091.3,533 1085.1,540.6 1082.6,558.1 1087.6,565.6 1093.8,573.1 1100.1,558.1 1103.9,549.3 1110.1,549.3 1106.4,558.1 1103.9,570.6 1108.1,581.1 1115.1,588.1" fill="none" stroke="#000" stroke-width="2.1"/>
<path d="M1102.5,685 1097.5,710 1107.5,730 1122.5,742.5 1140,755 1150,750 1160,745 1162.5,770 1152.5,772.5 1175,783" fill="none" stroke="#000" stroke-width="2.1"/>
<path d="M1355.3,805.1 1345.3,812.6 1335.2,817.6 1322.7,820.1 1317.7,827.6 1311.4,838.9 1302.7,851.4 1295.2,857.7 1280.1,860.2 1265.1,863.9 1255.1,863.9 1247.6,872.7 1241.3,882.7 1237.5,892.7 1236.3,902.7 1232.5,915.3 1230.5,940.3 1231.3,955.4 1232.5,980.4 1233.8,992.9 1230,1002.9 1238.8,1009.2 1240.1,1005.5 1247.6,1013 1257.6,1015.5 1258.8,1030.5 1259.6,1045.5 1257.6,1060.6 1243.8,1060.6 1240.1,1068.1 1240.1,1075.6 1247.6,1065.6 1257.6,1064.3 1261.3,1078.1 1268.9,1088.1 1275.1,1095.6 1271.4,1103.1 1261.3,1105.7 1256.3,1108.2 1258.8,1115.7 1267.6,1116.9 1266.4,1128.2 1275.1,1130.7 1273.9,1138.2 1267.6,1139.5 1271.4,1147 1278.9,1150.7 1268.9,1153.2 1258.8,1149.5 1252.6,1155.8 1250.1,1170.8 1252.6,1183.3 1247.6,1180.8 1240.1,1173.3 1237.5,1180.8 1241.3,1187.1 1233.8,1183.3 1225,1172 1226.3,1164.5 1215,1164.5 1205,1163.3" fill="none" stroke="#000" stroke-width="2.1"/>
<path d="M1319,906.5 1342.8,900.2" fill="none" stroke="#000" stroke-width="3.8"/>
<path d="M1335.2,922.8 1337.7,915.3" fill="none" stroke="#000" stroke-width="3.8"/>
<path d="M1240.1,1064.3 1257.6,1063.1 1268.9,1061.8 1280.1,1064.3 1287.6,1069.3 1297.7,1068.1 1308.9,1065.6" fill="none" stroke="#000" stroke-width="2.1"/>
<path d="M1278.9,1150.7 1290.2,1155.8 1300.2,1170.8 1307.7,1177 1316.5,1178.3" fill="none" stroke="#000" stroke-width="2.1"/>
<path d="M1518.1,1130.7 1521.9,1144.5" fill="none" stroke="#000" stroke-width="2.1"/>
<path d="M1539.4,1165.8 1543.2,1185.8 1546.9,1203.3 1545.7,1215.9 1539.4,1223.4 1534.4,1230.9 1535.6,1240.9 1543.2,1248.4 1548.2,1257.2 1553.2,1266" fill="none" stroke="#000" stroke-width="2.1"/>
<path d="M1886,1011 1870,1045 1852.5,1056.5" fill="none" stroke="#000" stroke-width="2.1"/>
<path d="M1722.8,525.3 1712.8,535.3 1702.8,547.8 1690.3,557.8 1677.7,566.6 1665.2,574.1 1652.7,581.6 1642.7,587.9 1637.7,592.9 1636.4,600.4 1638.9,612.9 1642.7,628.0 1647.7,638.0 1655.2,648.0 1658.9,660.5 1662.7,673.0 1661.5,683.1 1656.4,689.3 1647.7,693.1 1635.2,691.8 1622.6,691.8 1605.1,690.6 1585.1,693.1 1570.0,694.3 1560.0,691.8 1555.0,685.0 1547.5,670.0 1549.0,645.0 1552.5,610.0 1565.0,595.0 1590.0,577.5 1595.1,572.8 1607.6,560.3 1617.6,550.3 1623.9,540.3 1627.6,525.3 1632.6,512.7 1637.7,500.2 1645.2,487.7 1652.7,475.2 1656.4,457.6 1660.2,446.3 1669.0,438.8 1677.7,435.1 1685.3,433.8" fill="none" stroke="#000" stroke-width="4"/>
<path d="M1627.6,636.7 1633.9,641.7 1646.4,641" fill="none" stroke="#000" stroke-width="3.8"/>
<path d="M1267.8,1292.9 1277.8,1305.4 1292.8,1305.9 1310.4,1305.9 1317.9,1292.9 1325.4,1285.4 1325.9,1275.4 1320.4,1262.8 1315.4,1255.3 1312.9,1240.3 1307.9,1225.3 1304.8,1210.2 1305.4,1197.7 1315.4,1187.7 1327.9,1180.7 1344.2,1181.4 1350.4,1192.7 1363.0,1205.2 1371.7,1215.2 1380.5,1234.0 1373.0,1250.3 1364.2,1262.8 1359.2,1275.4 1360.5,1291.6 1374.2,1306.7 1388.0,1310.4 1403.0,1317.9 1418.1,1328.0 1430.6,1334.2 1439.4,1325.5 1445.6,1310.4 1456.9,1287.9 1465.7,1283.6 1474.4,1286.6 1485.7,1295.4 1500.7,1300.4 1509.5,1302.4 1518.3,1296.6 1523.3,1285.4 1525.8,1270.3 1533.3,1262.8 1545.8,1254.1 1555.9,1253.3 1565.9,1262.8 1574.6,1272.8 1574.6,1300.4 1573.4,1325.5 1574.6,1350.5 1575.9,1370.5 1580.9,1375.6 1593.4,1369.3 1606.0,1368.0 1614.0,1370.5 1617.5,1377.5 1635.0,1392.5 1642.5,1412.5 1637.5,1425.0 1625.0,1447.5 1607.5,1442.5 1582.5,1435.0 1560.0,1437.5 1542.5,1445.0 1545.8,1441.9 1533.3,1445.7 1529.5,1436.9 1540.8,1428.2 1547.1,1400.6 1550.8,1391.8 1545.8,1383.1 1540.8,1379.3 1528.3,1380.1 1513.3,1385.6 1493.2,1389.3 1478.2,1393.1 1463.2,1391.8 1448.1,1386.8 1433.1,1390.6 1413.1,1384.3 1395.5,1383.1 1380.5,1379.3 1374.2,1368.0 1369.2,1363.0 1355.5,1361.8 1344.9,1365.5 1340.4,1370.5 1337.9,1388.1 1332.9,1405.6 1330.4,1416.9 1337.9,1428.2 1345.4,1440.7 1352.9,1455.7 1346.7,1463.2 1335.4,1464.5 1317.9,1462.0 1302.8,1458.2 1292.8,1452.0 1280.3,1435.7 1270.3,1423.1 1260.3,1416.9 1255.3,1413.1 1254.0,1398.1 1246.5,1390.6 1239.0,1385.6 1234.0,1376.8 1237.7,1365.5 1236.5,1350.5 1235.2,1335.5 1230.2,1325.5 1222.7,1314.2 1215.2,1301.7 1210.2,1292.9 1205.2,1291.6" fill="none" stroke="#000" stroke-width="4"/>
<path d="M1275.3,1153.9 1277.8,1160.1 1282.8,1172.6 1270.3,1185.2 1255.3,1191.4 1240.2,1195.2 1230.2,1187.7 1223.9,1180.2 1221.4,1171.4 1226.4,1167.6" fill="none" stroke="#000" stroke-width="4"/>
<path d="M1226.4,1171.4 1232.7,1180.2 1237.7,1181.4 1237.7,1175.2 1242.7,1172.6 1249,1176.4 1250.2,1190.2" fill="none" stroke="#000" stroke-width="2.1"/>
<path d="M1250.2,1175.2 1251.5,1157.6 1257.8,1148.8 1265.3,1152.6 1277.8,1153.1" fill="none" stroke="#000" stroke-width="2.1"/>
<path d="M1130,1188.9 1145,1187.7 1162.6,1185.2 1167.6,1188.9 1170.1,1195.2 1177.6,1200.2 1185.1,1202.7 1191.4,1197.7 1180.1,1195.2 1175.1,1187.7 1177.6,1175.2 1188.9,1167.1 1197.6,1167.6 1225.2,1163.9 1226.4,1167.6" fill="none" stroke="#000" stroke-width="2.1"/>
<path d="M972.5,1984 980,1968.4 990.1,1955.9 1012.6,1940.9 1025.1,1937.1 1032.6,1943.4 1055.2,1944.6 1057.7,1937.1 1060.2,1948.4 1075.2,1939.6 1085.3,1940.9 1077.7,1948.4 1092.8,1953.4 1095.3,1960.9 1110.3,1963.4 1117.8,1968.4 1132.8,1965.9 1155.4,1960.9 1160.4,1950.9 1172.9,1943.4 1180.4,1930.9 1193,1923.3 1200.5,1919.6 1210.5,1917.1 1223,1910.8 1235.6,1898.3 1243.1,1887 1260.6,1878.3 1283.1,1882 1298.2,1889.5 1320.7,1900.8 1335.8,1910.8 1340.8,1925.9 1343.3,1940.9 1353.3,1958.4 1360.8,1970.9 1373.3,1986" fill="none" stroke="#000" stroke-width="2.1"/>
<path d="M1465.3,1794.4 1466.5,1773.1 1472.8,1750.5 1482.8,1730.5 1492.8,1720.5 1506.6,1711.7 1515.4,1723 1522.9,1731.8 1525.4,1755.6 1525.4,1780.6 1527.9,1793.1 1532.9,1798.1 1547.9,1799.4 1565.5,1798.1 1571.7,1808.2 1565.5,1821.9" fill="none" stroke="#000" stroke-width="4"/>
<path d="M1571.7,1853.2 1578,1835.7 1593,1830.7 1615.6,1826.9 1630.6,1828.2 1645.6,1840.7 1633.1,1860.8 1623.1,1875.8 1611.8,1885.8 1609.3,1903.3 1613.1,1918.4 1620.6,1928.4" fill="none" stroke="#000" stroke-width="4"/>
<path d="M1693.1,1962.6 1705.7,1950.1 1723.2,1948.8 1730.7,1960.1 1743.2,1971.4 1755.8,1980.2 1765.8,1995.2 1770.8,2005.2 1775.8,2017.7" fill="none" stroke="#000" stroke-width="4"/>
<path d="M1611.7,1915 1620.5,1925.1 1625.5,1937.6 1633,1941.3 1643,1937.6 1653,1943.8 1668.1,1947.6 1683.1,1953.9 1693.1,1962.6" fill="none" stroke="#000" stroke-width="3.8"/>
<path d="M1693.1,1987.7 1703.1,1990.7 1715.7,1995.2" fill="none" stroke="#000" stroke-width="3.8"/>
<path d="M2167.8,2142.9 2170.8,2150.4 2173.3,2165.4 2168.3,2175.4 2160.8,2182.9 2138.2,2181.7" fill="none" stroke="#000" stroke-width="4"/>
<path d="M2317.5,2230 2322.5,2226 2327.5,2231 2322.5,2236Z" fill="none" stroke="#000" stroke-width="3.8"/>
<path d="M2330,2215 2335,2211 2340,2216 2335,2221Z" fill="none" stroke="#000" stroke-width="3.8"/>
<path d="M1295,1975 1300,1980 1299,2000 1302.5,2025 1300,2050 1292.5,2075 1285,2082.5 1272.5,2077.5 1275,2060 1260,2050 1267.5,2042.5 1255,2030 1260,2015 1252.5,2005 1262.5,1997.5 1270,1995 1285,1992.5 1292.5,1985Z" fill="none" stroke="#000" stroke-width="2.1"/>
<path d="M1235,2120 1250,2117.5 1265,2102.5 1287.5,2095 1302.5,2100 1307.5,2115 1315,2130 1312.5,2150 1310,2175 1307.5,2200 1305,2230 1290,2232.5 1280,2225 1272.5,2245 1260,2247.5 1245,2235 1247.5,2210 1250,2190 1247.5,2170 1250,2150 1240,2137.5 1232.5,2130Z" fill="none" stroke="#000" stroke-width="2.1"/>
<path d="M1331,1989 1345,1986 1346,1994 1334,1995Z" fill="none" stroke="#000" stroke-width="2.1"/>
<path d="M2220,527.5 2240,505 2260,485 2280,465 2300,445 2320,420 2337.5,395 2355,370 2370,350 2382.5,340" fill="none" stroke="#000" stroke-width="2.1"/>
<path d="M2382.5,406 2370,409 2365,421 2356,424 2351,431 2340,433 2339,450 2325,455 2320,462.5 2331,469 2336,477.5 2345,490 2354,509 2360,522.5 2370,530 2375,550 2382.5,566" fill="none" stroke="#000" stroke-width="2.1"/>
<path d="M2231,642.5 2237.5,650 2225,657.5 2220,670 2210,690 2205,710 2202.5,730 2205,742.5 2200,755 2205,765 2212.5,775 2215,792.5 2205,797.5 2197.5,810 2196.5,824" fill="none" stroke="#000" stroke-width="2.1"/>
<path d="M2045,792.5 2057.5,785 2072.5,780 2085,775 2092.5,780 2095,774 2105,785 2120,792.5 2132.5,800 2140,812.5 2155,824 2170,817.5 2182.5,822.5 2196.5,824" fill="none" stroke="#000" stroke-width="2.1"/>
<path d="M2196.5,824 2207.5,825 2210,840 2220,845 2222.5,860 2215,870 2217.5,885 2227.5,890 2230,905 2235,920 2240,940 2237.5,950" fill="none" stroke="#000" stroke-width="2.1"/>
<path d="M1881,957.5 1900,940 1925,930 1950,927.5 1960,932.5 1970,927.5 1977.5,932.5 1990,930 2000,932.5 2020,937.5 2050,937.5 2060,932.5 2072.5,925 2080,945 2100,950 2115,960 2130,970 2145,985 2155,992.5 2170,990 2177.5,980 2195,972.5 2210,970 2215,960 2237.5,950" fill="none" stroke="#000" stroke-width="2.1"/>
<path d="M2237.5,950 2245,957.5 2257.5,955 2267.5,967.5 2282.5,965 2297.5,972.5 2302.5,987.5 2312.5,990 2325,980 2345,975 2360,985 2367.5,1000 2382.5,995" fill="none" stroke="#000" stroke-width="2.1"/>
<path d="M2155,992.5 2152.5,1010 2160,1024 2167.5,1027.5 2160,1037.5 2145,1040 2140,1052.5 2125,1057.5 2115,1070 2115,1095 2107.5,1110 2105,1122.5 2117.5,1125 2119,1115 2107.5,1114 2100,1122.5 2085,1127.5 2072.5,1130" fill="none" stroke="#000" stroke-width="2.1"/>
<path d="M1890,1027.5 1900,1040 1910,1047.5 1930,1050 1945,1045 1960,1050 1972.5,1060 1970,1075 1965,1090 1975,1105 1970,1110" fill="none" stroke="#000" stroke-width="2.1"/>
<path d="M1790,1110 1820,1102.5 1860,1107.5 1900,1111 1935,1112.5 1970,1111 1985,1110 1995,1120 2002.5,1130 2005,1145" fill="none" stroke="#000" stroke-width="2.1"/>
<path d="M2072.5,1130 2067.5,1135 2060,1140 2050,1142.5 2025,1142.5 2005,1145 2012.5,1175 2020,1200 2025,1220" fill="none" stroke="#000" stroke-width="2.1"/>
<path d="M2382.5,880 2370,895 2372.5,905 2382.5,900" fill="none" stroke="#000" stroke-width="2.1"/>
<path d="M2020,1200 2025,1220 2026,1240 2012.5,1250 2000,1260 1987.5,1280 1992.5,1290 2007.5,1300 2012.5,1310 2005,1335 2012.5,1337.5" fill="none" stroke="#000" stroke-width="2.1"/>
<path d="M2012.5,1337.5 2020,1375 2032.5,1395 2025,1402.5 2032.5,1417.5 2027.5,1430 2010,1435 1995,1455 1980,1475 1967.5,1490 1960,1502.5 1965,1520 1972.5,1540" fill="none" stroke="#000" stroke-width="2.1"/>
<path d="M2012.5,1337.5 2027.5,1340 2045,1317.5 2070,1312.5 2090,1309 2115,1312.5 2140,1317.5 2165,1322.5 2187.5,1325 2197.5,1337.5 2215,1335 2217.5,1345 2237.5,1335 2245,1340 2260,1342.5 2267.5,1350 2282.5,1337.5 2290,1345 2295,1355 2310,1350 2330,1345 2345,1350 2355,1362.5 2362.5,1340 2367.5,1320 2382.5,1302.5" fill="none" stroke="#000" stroke-width="2.1"/>
<path d="M1972.5,1540 1950,1532.5 1935,1525 1920,1517.5 1900,1510 1885,1507.5 1875,1517.5 1860,1515 1845,1522.5 1835,1525 1820,1527.5 1817.5,1512.5 1807.5,1505 1802.5,1495 1790,1507.5 1775,1502.5 1770,1492.5 1755,1475 1737.5,1470 1722.5,1460 1712.5,1450 1700,1445" fill="none" stroke="#000" stroke-width="2.1"/>
<path d="M1972.5,1540 1955,1542.5 1947.5,1557.5 1937.5,1572.5 1935,1590" fill="none" stroke="#000" stroke-width="2.1"/>
<path d="M1935,1590 1915,1592.5 1905,1582.5 1890,1585 1875,1582.5 1865,1587.5 1850,1595 1830,1600 1810,1605 1790,1610 1770,1615 1765,1632.5 1745,1635 1725,1632.5 1705,1625 1700,1622.5" fill="none" stroke="#000" stroke-width="2.1"/>
<path d="M1935,1590 1945,1602.5 1960,1610 1972.5,1617.5" fill="none" stroke="#000" stroke-width="2.1"/>
<path d="M1972.5,1617.5 1985,1610 2000,1617.5 2020,1620 2040,1622.5 2060,1625 2070,1635 2085,1630 2100,1622.5 2125,1620 2142.5,1605 2160,1600 2180,1605 2200,1592.5 2220,1592.5" fill="none" stroke="#000" stroke-width="2.1"/>
<path d="M2220,1592.5 2230,1615 2225,1640 2220,1660 2230,1685 2237.5,1705 2242.5,1730 2237.5,1750 2235,1775 2240,1800 2245,1810" fill="none" stroke="#000" stroke-width="2.1"/>
<path d="M2220,1592.5 2240,1590 2260,1605 2275,1610 2287.5,1622.5 2290,1645 2300,1660 2320,1670 2325,1695 2327.5,1720 2335,1735 2320,1730 2300,1727.5 2282.5,1730 2275,1750 2280,1770 2270,1780 2265,1800 2245,1810" fill="none" stroke="#000" stroke-width="2.1"/>
<path d="M2245,1810 2260,1820 2280,1815 2295,1810 2307.5,1800 2315,1805" fill="none" stroke="#000" stroke-width="2.1"/>
<path d="M1972.5,1617.5 1950,1640 1930,1650 1920,1675 1910,1690 1905,1715 1890,1735 1885,1750 1870,1752.5 1845,1755" fill="none" stroke="#000" stroke-width="2.1"/>
<path d="M1845,1755 1825,1750 1805,1752.5 1790,1762.5 1770,1770 1760,1775 1740,1775 1720,1782.5 1700,1785" fill="none" stroke="#000" stroke-width="2.1"/>
<path d="M1845,1755 1860,1775 1867.5,1800 1885,1815 1900,1830 1895,1845 1910,1865 1930,1875 1950,1880 1960,1895 1950,1916" fill="none" stroke="#000" stroke-width="2.1"/>
<path d="M1950,1895 1960,1910 1972.5,1917.5 2000,1917.5 2030,1925 2060,1924 2090,1922.5 2110,1920 2130,1910 2155,1902.5 2180,1900 2212.5,1905 2230,1920 2257.5,1924" fill="none" stroke="#000" stroke-width="2.1"/>
<path d="M1950,1895 1947.5,1920 1955,1940 1970,1955 1977.5,1967.5 1960,1980 1950,1995 1950,2020 1957.5,2030" fill="none" stroke="#000" stroke-width="2.1"/>
<path d="M1957.5,2030 1970,2040 1980,2060 1990,2080 2010,2082.5 2030,2077.5 2050,2075 2070,2077.5 2090,2085 2115,2090 2140,2085 2152.5,2075 2160,2080 2155,2050 2175,2040 2200,2037.5 2220,2045 2230,2045" fill="none" stroke="#000" stroke-width="2.1"/>
<path d="M2152.5,2075 2157.5,2095 2145,2100 2142.5,2110 2135,2125" fill="none" stroke="#000" stroke-width="2.1"/>
<path d="M1957.5,2030 1940,2022.5 1920,2022.5 1900,2030 1880,2035 1865,2037.5" fill="none" stroke="#000" stroke-width="2.1"/>
<path d="M1990,2080 1970,2092.5 1950,2102.5 1935,2112.5 1915,2115 1900,2112.5 1887.5,2117.5" fill="none" stroke="#000" stroke-width="2.1"/>
<path d="M1865,2037.5 1855,2050 1857.5,2075 1852.5,2090 1860,2105 1875,2117.5 1887.5,2117.5 1875,2132.5 1865,2150 1862.5,2170 1845,2180 1835,2195" fill="none" stroke="#000" stroke-width="2.1"/>
<path d="M1865,2037.5 1850,2022.5 1835,2010 1820,2002.5 1807.5,2010 1800,2030 1795,2050 1790,2065" fill="none" stroke="#000" stroke-width="2.1"/>
<path d="M1755,1960 1765,1950 1775,1945 1780,1930 1800,1925 1815,1910" fill="none" stroke="#000" stroke-width="2.1"/>
<path d="M1835,2010 1845,1995 1865,1990 1880,1980 1870,1965 1850,1960 1825,1970" fill="none" stroke="#000" stroke-width="2.1"/>
<path d="M1553,1266 1557.5,1275 1562.5,1300 1570,1330 1572.5,1365" fill="none" stroke="#000" stroke-width="2.1"/>
<path d="M1575,1375 1545,1385 1525,1397.5 1500,1415 1487.5,1425 1470,1427.5 1450,1435 1432.5,1442.5 1440,1455 1452.5,1470 1450,1490 1460,1510 1475,1525 1492.5,1540 1510,1550 1517.5,1557.5" fill="none" stroke="#000" stroke-width="2.1"/>
<path d="M1642.5,1412.5 1650,1420 1670,1432.5 1677.5,1440 1690,1437.5 1710,1442.5 1715,1450 1705,1452.5 1720,1460 1735,1465 1750,1472.5 1757.5,1482.5 1770,1492.5 1772.5,1505 1787.5,1500 1800,1497.5 1812.5,1510 1820,1525 1832.5,1517.5 1850,1515 1870,1510 1880,1507.5 1895,1512.5 1915,1520 1935,1527.5 1950,1530 1966,1532.5" fill="none" stroke="#000" stroke-width="2.1"/>
<path d="M1517.5,1557.5 1515,1572.5 1500,1577.5 1497.5,1592.5 1480,1597.5 1467.5,1602.5 1465,1615 1472.5,1630 1470,1642.5 1480,1647.5 1477.5,1657.5 1467.5,1652.5 1450,1642.5 1440,1645 1430,1640" fill="none" stroke="#000" stroke-width="2.1"/>
<path d="M1517.5,1557.5 1530,1567.5 1547.5,1572.5 1555,1565 1575,1557.5 1577.5,1542.5 1600,1547.5 1630,1557.5 1650,1560 1670,1572.5" fill="none" stroke="#000" stroke-width="2.1"/>
<path d="M1670,1572.5 1675,1557.5 1685,1550 1700,1540 1720,1535 1732.5,1520 1750,1515 1772.5,1505" fill="none" stroke="#000" stroke-width="2.1"/>
<path d="M1670,1572.5 1672.5,1595 1682.5,1605 1680,1622.5 1675,1640 1655,1642.5 1650,1647.5 1662.5,1652.5 1652.5,1662.5 1650,1685 1652.5,1695 1642.5,1700" fill="none" stroke="#000" stroke-width="2.1"/>
<path d="M1682.5,1605 1700,1622.5 1720,1632.5 1740,1635 1765,1632.5 1767.5,1620 1785,1615 1810,1610 1840,1605 1850,1600" fill="none" stroke="#000" stroke-width="2.1"/>
<path d="M1642.5,1700 1615,1705 1595,1712.5 1570,1717.5 1550,1720 1530,1722.5 1505,1715 1480,1710 1460,1705 1435,1697.5 1430,1687.5 1415,1692.5 1400,1695" fill="none" stroke="#000" stroke-width="2.1"/>
<path d="M1642.5,1700 1645,1720 1635,1730 1615,1735 1600,1742.5 1590,1760 1570,1770 1555,1775 1550,1790 1530,1795 1525,1782.5 1510,1782.5" fill="none" stroke="#000" stroke-width="2.1"/>
<path d="M1642.5,1700 1655,1720 1675,1737.5 1700,1755 1720,1770 1740,1775 1765,1780 1790,1770 1810,1755 1840,1750 1850,1755" fill="none" stroke="#000" stroke-width="2.1"/>
<path d="M1650,1820 1665,1812.5 1685,1817.5 1700,1810 1725,1815 1750,1822.5 1772.5,1820 1780,1800 1790,1770" fill="none" stroke="#000" stroke-width="2.1"/>
<path d="M1117.5,1505 1130,1512.5 1145,1510 1155,1517.5 1170,1525 1190,1532.5 1205,1537.5 1220,1542.5 1215,1565 1207.5,1585 1200,1605 1197.5,1625 1202.5,1642.5" fill="none" stroke="#000" stroke-width="2.1"/>
<path d="M1202.5,1642.5 1220,1647.5 1235,1642.5 1250,1637.5 1260,1645 1280,1642.5 1295,1650 1310,1640 1325,1647.5 1320,1660 1310,1675 1300,1685 1305,1700" fill="none" stroke="#000" stroke-width="2.1"/>
<path d="M1202.5,1642.5 1190,1650 1175,1660 1160,1675 1150,1690 1145,1705 1150,1715 1135,1727.5 1137.5,1740 1150,1750 1170,1760 1190,1770 1210,1770 1225,1760 1245,1755 1265,1750 1280,1770 1290,1750 1305,1700" fill="none" stroke="#000" stroke-width="2.1"/>
<path d="M1150,1750 1165,1770 1180,1790 1175,1810 1165,1830 1170,1850 1160,1870 1165,1890 1175,1905 1190,1916" fill="none" stroke="#000" stroke-width="2.1"/></g>
<g><path d="M1373.2,1985.9 1380,2002.7 1387.5,2014 1402.5,2016.5 1410.1,2025.3 1413.8,2037.8 1423.8,2042.8 1433.9,2047.8 1440.1,2060.3 1450.1,2070.3 1457.7,2077.9 1467.7,2082.9 1477.7,2092.4 1490.2,2090.4 1505.3,2091.6 1515.3,2097.9 1522.8,2107.9 1530.3,2121.7 1540.3,2120.4 1547.8,2126.7 1545.3,2135.5 1555.4,2133 1565.4,2130.5 1575.4,2144.2 1572.9,2158 1582.9,2164.3 1595.4,2174.3 1604.2,2170.5 1613,2176.8 1615.5,2188.1 1616.7,2200.6 1624.2,2213.1 1629.2,2225.7 1630.5,2238.2 1636.8,2245.7 1636.8,2255.7 1626.7,2258.2 1618,2262 1623,2270.7 1621.7,2280.8 1616.7,2289.5 1606.7,2297 1608,2314.6 1630.5,2315.8 1634.3,2300.8 1643,2289.5 1654.3,2280.8 1655.6,2270.7 1651.8,2260.7 1655.6,2253.2 1666.8,2246.9 1678.1,2244.4 1685.6,2240.7 1683.1,2228.2 1684.4,2214.4 1673.1,2206.9 1663.1,2199.3 1654.3,2198.1 1650.5,2190.6 1655.6,2178.1 1658.1,2170.5 1666.8,2154.3 1665.6,2148 1678.1,2141.7 1693.1,2143 1686.9,2148 1695.6,2154.3 1708.2,2155.5 1720.7,2160.5 1726.9,2169.3 1726.9,2178.1 1735.7,2185.6 1745.7,2188.1 1747,2175.6 1753.2,2166.8 1748.2,2155.5 1738.2,2144.2 1729.4,2138 1726.9,2131.7 1713.2,2125.5 1698.1,2119.2 1685.6,2107.9 1668.1,2100.4 1650.5,2092.9 1633,2084.1 1621.7,2076.6 1621.7,2067.8 1630.5,2062.8 1635.5,2054.1 1629.2,2046.5 1615.5,2047.8 1595.4,2049.8 1580.4,2047.8 1562.9,2037.8 1560.4,2030.3 1542.8,2017.7 1530.3,2005.2 1522.8,1990.2 1516.5,1972.6 1512.8,1955.1 1505.3,1935.1 1495.2,1930.1 1482.7,1922.5 1465.2,1907.5 1452.6,1900 1442.6,1890" fill="none" stroke="#000" stroke-width="2.1"/>
<path d="M1407.6,2020.2 1413.8,2000.2 1421.3,1986.4 1433.9,1987.7 1450.1,2005.2 1475.2,2015.2 1485.2,2027.8 1492.7,2044 1502.7,2052.8 1511.5,2067.8 1501.5,2092.4" fill="none" stroke="#000" stroke-width="4"/>
<path d="M1447.6,2300.8 1452.6,2297 1461.4,2293.3 1467.7,2299.5 1477.7,2298.3 1481.5,2292 1490.2,2290.8 1495.2,2298.3 1505.3,2303.3 1515.3,2308.3 1530.3,2310.8 1545.3,2310.8 1555.4,2303.3 1570.4,2298.3 1587.9,2292 1602.9,2285.8 1606.7,2290.8 1600.4,2298.3 1592.9,2307.1 1587.9,2318.3 1585.4,2330.9 1580.4,2335.9 1580.4,2348.4 1587.9,2358.4 1592.9,2365.9 1580.4,2373.4 1565.4,2379.7 1555.4,2384 1550.3,2373.4 1540.3,2365.9 1530.3,2359.7 1515.3,2358.4 1505.3,2350.9 1495.2,2344.6 1485.2,2335.9 1472.7,2329.6 1457.7,2329.6 1448.9,2320.8 1447.6,2310.8Z" fill="none" stroke="#000" stroke-width="2.1"/>
<path d="M1432.7,1813.2 1436.5,1823.2 1442.7,1833.2 1447.7,1840.7 1452.7,1840.7 1447.7,1848.2 1441.5,1855.8 1439,1870.8 1440.2,1885.8 1444,1900.8 1452.7,1915.9 1462.8,1928.4 1475.3,1938.4 1490.3,1948.4 1502.8,1958.5 1510.4,1964.7" fill="none" stroke="#000" stroke-width="2.1"/>
<path d="M1100,2389 1115,2387.5 1135,2380 1155,2380 1172.5,2390 1185,2410 1195,2417.5 1205,2410 1200,2390 1192.5,2375 1187.5,2364" fill="none" stroke="#000" stroke-width="4"/>
<path d="M1000,2382.5 1030,2375 1070,2377.5 1100,2387.5 1120,2375 1145,2362.5 1165,2370 1185,2362.5 1205,2370 1230,2372.5 1250,2370 1270,2360 1300,2350 1320,2347.5 1320,2357.5 1330,2352.5 1340,2370 1350,2375 1360,2367.5 1377.5,2365 1380,2375 1372.5,2395 1360,2400 1350,2415 1350,2432.5" fill="none" stroke="#000" stroke-width="2.1"/>
<path d="M1250,2370 1240,2390 1242.5,2432.5" fill="none" stroke="#000" stroke-width="2.1"/>
<path d="M827.5,2432.5 870,2400 925,2390 975,2382.5 1010,2375 1065,2375 1150,2382.5" fill="none" stroke="#000" stroke-width="2.1"/>
<path d="M1070,2377.5 1075,2405 1080,2432.5" fill="none" stroke="#000" stroke-width="4"/></g>
<g><path d="M552.8,756.5 560.3,760.2 570.3,771.5 580.3,779 592.8,781.5 607.9,777.8 627.9,770.8 636.7,772.8" fill="none" stroke="#000" stroke-width="7"/>
<path d="M678,810.3 695.6,812.8 698.1,815.4 696.8,835.4 693,850.4 689.3,862.9 691.8,875.5 695.6,886.7 691.8,898 684.3,909.3 673,918.1 660.5,921.8 645.5,923.1 629.2,924.3 620.4,930.6 612.9,940.6 604.1,949.4 600.4,963.1 595.4,978.2 590.3,990.7 585.3,997" fill="none" stroke="#000" stroke-width="7"/>
<ellipse cx="495" cy="780" rx="10" ry="6" transform="rotate(-45 495 780)" fill="#000"/>
<circle cx="504.4" cy="874.7" r="5" fill="#000"/>
<ellipse cx="539" cy="1022" rx="7" ry="5.5" fill="#000"/>
<ellipse cx="490.9" cy="1194.9" rx="5" ry="7.5" fill="#000"/>
<ellipse cx="502.4" cy="1212.9" rx="7" ry="5.5" transform="rotate(20 502.4 1212.9)" fill="#000"/>
<path d="M633.1,1232.9 643.2,1226.7 654.4,1225.4 667,1230.4 670.7,1235.5 670.7,1254.2 660.7,1263 650.7,1264.3 640.7,1261.8 634.4,1254.2Z" fill="none" stroke="#000" stroke-width="7"/>
<path d="M649.4,1355.7 660.7,1345.7 670.7,1329.4 683.2,1316.9 695.8,1308.1 704.5,1303.1 712.1,1309.3 715.8,1318.1 714.6,1333.1 710.8,1346.9 702,1359.4 690.8,1367 678.2,1370.7 673.2,1375.7 670.7,1390.8 670.7,1409.5" fill="none" stroke="#000" stroke-width="7"/>
<path d="M639.4,1370.7 641.9,1380.7 646.9,1390.8 650.7,1403.3 658.2,1413.3" fill="none" stroke="#000" stroke-width="7"/>
<path d="M810.1,1330.6 817.6,1328.1 833.9,1334.3 836.4,1353.1 831.4,1361.9 817.6,1366.9 811.4,1361.9 808.8,1351.9Z" fill="none" stroke="#000" stroke-width="7"/>
<ellipse cx="754" cy="1494" rx="7.5" ry="6.5" fill="#000"/>
<rect x="710" y="1522" width="12" height="7" fill="#000"/>
<path d="M589.3,1947.3 592.7,1961.7 601,1978.3 614.3,1990 641,2000 654.3,2016.7 666,2028.3 682.7,2021.7 689.3,2013.3 692.7,2000 686,1986.7 677.7,1976.7 678.3,1961.7 681,1946.7" fill="none" stroke="#000" stroke-width="7"/>
<path d="M734.3,2010 742.7,2000 754.3,1995 767.7,2000 775,2018.3 771,2036.7 754.3,2046.7 739.3,2038.3 733.7,2018.3Z" fill="none" stroke="#000" stroke-width="7"/>
<path d="M382.7,2021.7 389.3,2030 394.3,2043.3 397.7,2060 398.3,2070 392.7,2075 382.7,2075" fill="none" stroke="#000" stroke-width="7"/>
<path d="M389.3,2105 402.7,2103.3 412.7,2113.3 417.7,2136.7 421,2166.7 421,2183.3 416,2200 404.3,2208.3 384.3,2210.7 366,2206.7" fill="none" stroke="#000" stroke-width="7"/>
<path d="M351,2240 356,2241.7 361,2250 359.3,2260" fill="none" stroke="#000" stroke-width="5.5"/>
<path d="M804.3,2233.3 801,2246.7 806,2260 812.7,2270" fill="none" stroke="#000" stroke-width="7"/>
<circle cx="591.7" cy="2134.3" r="2" fill="#000"/>
<path d="M945,2017.5 952.5,2010 961,2017.5 952.5,2025Z" fill="none" stroke="#000" stroke-width="5"/>
<path d="M1262.9,518 1270.4,513 1278,518 1288,530.5 1294.2,540.6 1298,549.3 1290.5,560.6 1280.5,573.1 1269.2,583.1 1262.9,576.9 1259.2,568.1 1250.4,558.1 1247.9,548.1 1252.9,535.5Z" fill="none" stroke="#000" stroke-width="7"/>
<circle cx="1230.9" cy="419.6" r="6.5" fill="#000"/>
<circle cx="1193.3" cy="599.4" r="5" fill="#000"/>
<circle cx="1180.8" cy="623.7" r="5" fill="#000"/>
<path d="M1250.4,271 1252.9,290.1 1247.9,307.6 1240.4,313.8 1222.8,313.8 1205.3,317.6 1194,325.1 1187.8,337.6 1182.8,352.7 1177.8,355.2 1172.7,342.7 1167.7,335.1 1161.5,332.6 1159,342.7 1159,365.2 1157.7,385.2 1160.2,394 1145.2,396.5 1132.7,402.8 1125.2,412.8 1122.6,427.8 1116.4,442.9 1110.1,455.4 1103.9,459.1 1097.6,451.6 1096.3,440.4 1101.4,429.1 1108.9,420.3 1107.6,410.3 1097.6,407.8 1088.8,404 1083.8,397.8" fill="none" stroke="#000" stroke-width="6.5"/>
<path d="M1117.6,337.6 1125.2,357.7 1132.7,370.2 1142.7,374 1150.2,350.2 1154,330.1" fill="none" stroke="#000" stroke-width="6.5"/>
<path d="M1172.7,280 1190.3,276.3 1210.3,280 1225.4,285 1240.4,292.6 1247.9,307.6" fill="none" stroke="#000" stroke-width="5.5"/>
<path d="M1180.3,297.6 1200.3,295.1 1220.3,300.1 1230.4,305.1" fill="none" stroke="#000" stroke-width="5"/>
<circle cx="1331.7" cy="1513.3" r="2.5" fill="#000"/>
<path d="M1216.8,1625.3 1225.5,1619 1234.3,1617.2 1238.1,1624 1235.6,1631.5 1225.5,1632.8Z" fill="none" stroke="#000" stroke-width="6.5"/>
<path d="M1204.2,1662.8 1215.5,1654.1 1225.5,1656.6 1231.8,1665.3 1218,1676.6Z" fill="none" stroke="#000" stroke-width="6.5"/>
<path d="M1150.4,1712.9 1157.9,1707.9 1170.4,1711.7 1175.4,1722.9 1185.5,1730.5 1186.7,1740.5 1180.4,1748 1167.9,1749.2 1157.9,1744.2 1151.6,1733Z" fill="none" stroke="#000" stroke-width="7"/>
<path d="M1403.4,1607.7 1394.6,1607.7 1394.6,1627.8 1395.9,1640.3 1397.1,1665.3 1400.9,1680.4 1399.6,1700.4 1395.9,1720.4 1390.9,1735.5 1383.3,1745.5 1360.8,1748 1335.8,1750.5 1318.2,1750.5 1309.4,1743 1305.7,1735.5 1315.7,1717.9 1327,1697.9 1334.5,1672.8 1350.8,1662.8 1365.8,1650.3 1380.8,1636.5 1394.6,1627.8" fill="none" stroke="#000" stroke-width="7"/>
<circle cx="1404.6" cy="1607.7" r="5" fill="#000"/>
<path d="M1235.6,1833.2 1250.6,1828.2 1273.1,1824.4 1280.6,1810.6 1290.7,1794.3 1295.7,1789.3 1299.4,1794.3 1296.9,1813.1 1290.7,1825.7 1294.4,1845.7 1290.7,1863.2 1283.1,1880.8 1260.6,1875.8 1243.1,1870.7 1234.3,1860.7 1233,1845.7Z" fill="none" stroke="#000" stroke-width="7"/>
<ellipse cx="1226" cy="1907" rx="7" ry="4" transform="rotate(-35 1226 1907)" fill="#000"/>
<path d="M1457.7,1927.6 1463.9,1945.1 1472.7,1955.1 1485.2,1972.6 1497.7,1992.7 1496.5,2002.7 1477.7,2000.2 1460.2,1996.4 1450.1,1990.2 1440.1,1980.2 1443.9,1957.6 1450.1,1935.1Z" fill="none" stroke="#000" stroke-width="7"/>
<path d="M1547.8,2126.7 1552.8,2107.9 1557.9,2095.4 1570.4,2080.4 1580.4,2062.8 1590.4,2051.6 1615.5,2049 1629.2,2047.8 1635.5,2055.3" fill="none" stroke="#000" stroke-width="7"/>
<path d="M1649.3,2092.9 1645.5,2112.9 1640.5,2133 1635.5,2150.5 1639.3,2165.5 1635.5,2175.6 1628,2179.3 1618,2178.1 1610.5,2170.5 1602.9,2160.5 1592.9,2150.5 1577.9,2144.2 1572.9,2140.5" fill="none" stroke="#000" stroke-width="7"/>
<path d="M1634.3,2218.1 1640.5,2206.9 1650.5,2201.9 1660.6,2205.6 1665.6,2215.6 1663.1,2224.4 1654.3,2233.2 1645.5,2236.9 1638,2230.7Z" fill="none" stroke="#000" stroke-width="7"/>
<path d="M1624.2,2260.7 1638,2268.2 1653,2278.3" fill="none" stroke="#000" stroke-width="7"/>
<circle cx="1448.9" cy="1910.0" r="2" fill="#000"/>
<path d="M1458.9,2297 1465.2,2310.8 1473.9,2320.8 1487.7,2325.9 1497.7,2328.4 1502.7,2345.9 1507.8,2353.4 1527.8,2358.4 1542.8,2363.4 1552.8,2376 1560.4,2381 1580.4,2373.4" fill="none" stroke="#000" stroke-width="7"/>
<path d="M1803.3,2075.4 1808.4,2067.8 1813.4,2075.4 1812.1,2085.4 1805.9,2090.4" fill="none" stroke="#000" stroke-width="5.5"/>
<path d="M2006.7,2281.9 2013,2273.1 2021.7,2270.6 2030.5,2274.4 2036.8,2283.1 2038,2293.2 2030.5,2295.7 2028,2303.2 2020.5,2305.7 2013,2301.9 2008,2293.2Z" fill="none" stroke="#000" stroke-width="6"/>
<path d="M1801.3,2072.7 1807.6,2065.2 1812.6,2072.7 1813.8,2085.3 1807.6,2092.8 1801.3,2087.8" fill="none" stroke="#000" stroke-width="5.5"/>
<circle cx="2285.0" cy="2280.0" r="2.5" fill="#000"/>
<path d="M2372.5,2182.5 2382.5,2182.5 2382.5,2220 2375,2210" fill="none" stroke="#000" stroke-width="5.5"/>
<circle cx="2097.5" cy="1700.0" r="2" fill="#000"/>
<path d="M1796,1530 1798,1550 1810,1551.5" fill="none" stroke="#000" stroke-width="5.5"/>
<circle cx="1682.5" cy="1588.5" r="2" fill="#000"/>
<circle cx="1331.5" cy="1513.5" r="2" fill="#000"/>
<circle cx="1294.0" cy="1981.0" r="3" fill="#000"/></g>
<g><text class="c" x="1217.5" y="538.5" textLength="196.5" lengthAdjust="spacingAndGlyphs">NORWAY</text>
<text class="c" x="1489" y="590" textLength="187" lengthAdjust="spacingAndGlyphs">SWEDEN</text>
<text class="c" x="1249" y="967" textLength="101" lengthAdjust="spacingAndGlyphs">DEN.</text>
<text class="c" x="1985" y="486" textLength="189" lengthAdjust="spacingAndGlyphs">FINLAND</text>
<text class="c" x="2030" y="730" textLength="190" lengthAdjust="spacingAndGlyphs">ESTONIA</text>
<text class="c" x="2050" y="902.5" textLength="151.5" lengthAdjust="spacingAndGlyphs">LATVIA</text>
<text class="c" x="1922.5" y="1023.5" textLength="237.5" lengthAdjust="spacingAndGlyphs">LITHUANIA</text>
<text class="c" x="1873.5" y="1097.5" textLength="94.0" lengthAdjust="spacingAndGlyphs">KAL.</text>
<text class="c" x="2116.5" y="1225" textLength="197.5" lengthAdjust="spacingAndGlyphs">BELARUS</text>
<text class="c" x="357.5" y="1251" textLength="186.5" lengthAdjust="spacingAndGlyphs">IRELAND</text>
<text class="c" x="660" y="1297" textLength="208.5" lengthAdjust="spacingAndGlyphs">ENGLAND</text>
<text class="c" x="999" y="1323.5" textLength="126" lengthAdjust="spacingAndGlyphs">NETH.</text>
<text class="c" x="1005" y="1419.5" textLength="119" lengthAdjust="spacingAndGlyphs">BELG.</text>
<text class="c" x="876" y="1736" textLength="168" lengthAdjust="spacingAndGlyphs">FRANCE</text>
<text class="c" x="1230" y="1372" textLength="219" lengthAdjust="spacingAndGlyphs">GERMANY</text>
<text class="c" x="1697.5" y="1313" textLength="181.0" lengthAdjust="spacingAndGlyphs">POLAND</text>
<text class="c" x="1545" y="1510" textLength="149" lengthAdjust="spacingAndGlyphs">CZECH.</text>
<text class="c" x="1697.5" y="1595" textLength="182.5" lengthAdjust="spacingAndGlyphs">SLOVAK.</text>
<text class="c" x="1515" y="1671" textLength="99" lengthAdjust="spacingAndGlyphs">AUS.</text>
<text class="c" x="1731" y="1712.5" textLength="139" lengthAdjust="spacingAndGlyphs">HUNG.</text>
<text class="c" x="1181" y="1713.5" textLength="149" lengthAdjust="spacingAndGlyphs">SWITZ.</text>
<text class="c" x="1510" y="1771" textLength="119" lengthAdjust="spacingAndGlyphs">SLOV.</text>
<text class="c" x="1624" y="1810" textLength="100" lengthAdjust="spacingAndGlyphs">CRO.</text>
<text class="c" x="1646.5" y="1887.5" textLength="166.0" lengthAdjust="spacingAndGlyphs">BOSNIA</text>
<text class="c" x="2216" y="1691" textLength="110.5" lengthAdjust="spacingAndGlyphs">MOL.</text>
<text class="c" x="1969" y="1807" textLength="215" lengthAdjust="spacingAndGlyphs">ROMANIA</text>
<text class="c" x="381" y="2177" textLength="125" lengthAdjust="spacingAndGlyphs">PORT.</text>
<text class="c" x="588.5" y="2205" textLength="126.5" lengthAdjust="spacingAndGlyphs">SPAIN</text>
<text class="c" x="1389" y="1988.5" textLength="117" lengthAdjust="spacingAndGlyphs">ITALY</text>
<text class="c" x="1825" y="1960" textLength="121" lengthAdjust="spacingAndGlyphs">SERB.</text>
<text class="c" x="2034" y="2018.5" textLength="127" lengthAdjust="spacingAndGlyphs">BULG.</text>
<text class="c" x="1857.5" y="2087.5" textLength="137.5" lengthAdjust="spacingAndGlyphs">MACE.</text>
<text class="c" x="1799" y="2142.5" textLength="93.5" lengthAdjust="spacingAndGlyphs">ALB.</text>
<text class="c" x="1837.5" y="2217" textLength="163.5" lengthAdjust="spacingAndGlyphs">GREECE</text>
<text class="c" x="2332.5" y="1576" textLength="104" lengthAdjust="spacingAndGlyphs">UKR.</text>
<text class="s" x="919" y="926" textLength="118.5" lengthAdjust="spacingAndGlyphs">North</text>
<text class="s" x="942.5" y="986" textLength="71.5" lengthAdjust="spacingAndGlyphs">Sea</text>
<text class="s" x="1699" y="953.5" textLength="115" lengthAdjust="spacingAndGlyphs">Baltic</text>
<text class="s" x="1720" y="1015" textLength="72.5" lengthAdjust="spacingAndGlyphs">Sea</text>
<text class="s" x="323.5" y="1670" textLength="205.5" lengthAdjust="spacingAndGlyphs">ATLANTIC</text>
<text class="s" x="356" y="1730" textLength="140.5" lengthAdjust="spacingAndGlyphs">OCEAN</text>
<text class="s" x="911" y="2318.5" textLength="393" lengthAdjust="spacingAndGlyphs">Mediterranean Sea</text></g>
</g>
<rect x="321.5" y="271.5" width="2057" height="2157" fill="none" stroke="#000" stroke-width="1.4"/>
<!-- colour bar -->
<g stroke="#6e6e6e" stroke-width="3.6"><rect x="2480" y="680.0" width="49" height="148.5" fill="#ff0000"/><rect x="2480" y="828.5" width="49" height="148.5" fill="#ff5555"/><rect x="2480" y="977.0" width="49" height="148.5" fill="#ffaaaa"/><rect x="2480" y="1125.5" width="49" height="148.5" fill="#ffd5d5"/><rect x="2480" y="1274.0" width="49" height="148.5" fill="#ffffff"/><rect x="2480" y="1422.5" width="49" height="148.5" fill="#ccffff"/><rect x="2480" y="1571.0" width="49" height="148.5" fill="#66ffff"/><rect x="2480" y="1719.5" width="49" height="148.5" fill="#55aaff"/><rect x="2480" y="1868.0" width="49" height="148.5" fill="#0080ff"/></g>
<text class="k" x="2547.5" y="847.3">+7</text>
<text class="k" x="2547.5" y="995.8">+5</text>
<text class="k" x="2547.5" y="1144.3">+3</text>
<text class="k" x="2547.5" y="1292.8">+1</text>
<text class="k" x="2547.5" y="1441.3">-1</text>
<text class="k" x="2547.5" y="1589.8">-3</text>
<text class="k" x="2547.5" y="1738.3">-5</text>
<text class="k" x="2547.5" y="1886.8">-7</text>
<text class="f" x="1749" y="2471.7" textLength="617" lengthAdjust="spacing">CLIMATE PREDICTION CENTER, NOAA</text>
<text class="f" x="1749" y="2509.5" textLength="443" lengthAdjust="spacing">Computer generated contours</text>
<text class="f" x="1749" y="2548" textLength="506" lengthAdjust="spacing">Based on preliminary gridded data</text>
<text class="f" x="1749" y="2586.5" textLength="632" lengthAdjust="spacing">Normals based on 1981-2010 gridded data</text>
<!-- NOAA logo -->
<g>
<circle cx="2541.5" cy="2544" r="110" fill="#fff"/>
<g clip-path="url(#lg)">
<path d="M2420,2420H2670V2478L2627,2476L2552,2563H2532L2453,2478L2420,2478Z" fill="#0018a8"/>
<path d="M2420,2500L2436,2514L2486,2554L2539,2571L2508,2586L2510,2592L2533,2592L2590,2566L2567,2562L2642,2496L2670,2480V2670H2420Z" fill="#0099ff"/>
</g>
<text x="2494" y="2507" textLength="92" lengthAdjust="spacingAndGlyphs" style="font-size:40px;font-weight:bold;fill:#f0f0ff">NOAA</text>
<path id="ring1" d="M2423,2564A120,120 0 1 1 2660,2564" fill="none"/>
<path id="ring2" d="M2428,2590A123,123 0 0 0 2655,2590" fill="none"/>
<text style="font-size:16px;font-weight:bold;fill:#80808c" textLength="412" lengthAdjust="spacingAndGlyphs"><textPath href="#ring1">NATIONAL OCEANIC AND ATMOSPHERIC ADMINISTRATION</textPath></text>
<text style="font-size:16px;font-weight:bold;fill:#80808c" textLength="282" lengthAdjust="spacingAndGlyphs"><textPath href="#ring2">U.S. DEPARTMENT OF COMMERCE</textPath></text>
</g>
</svg>
</body></html>
